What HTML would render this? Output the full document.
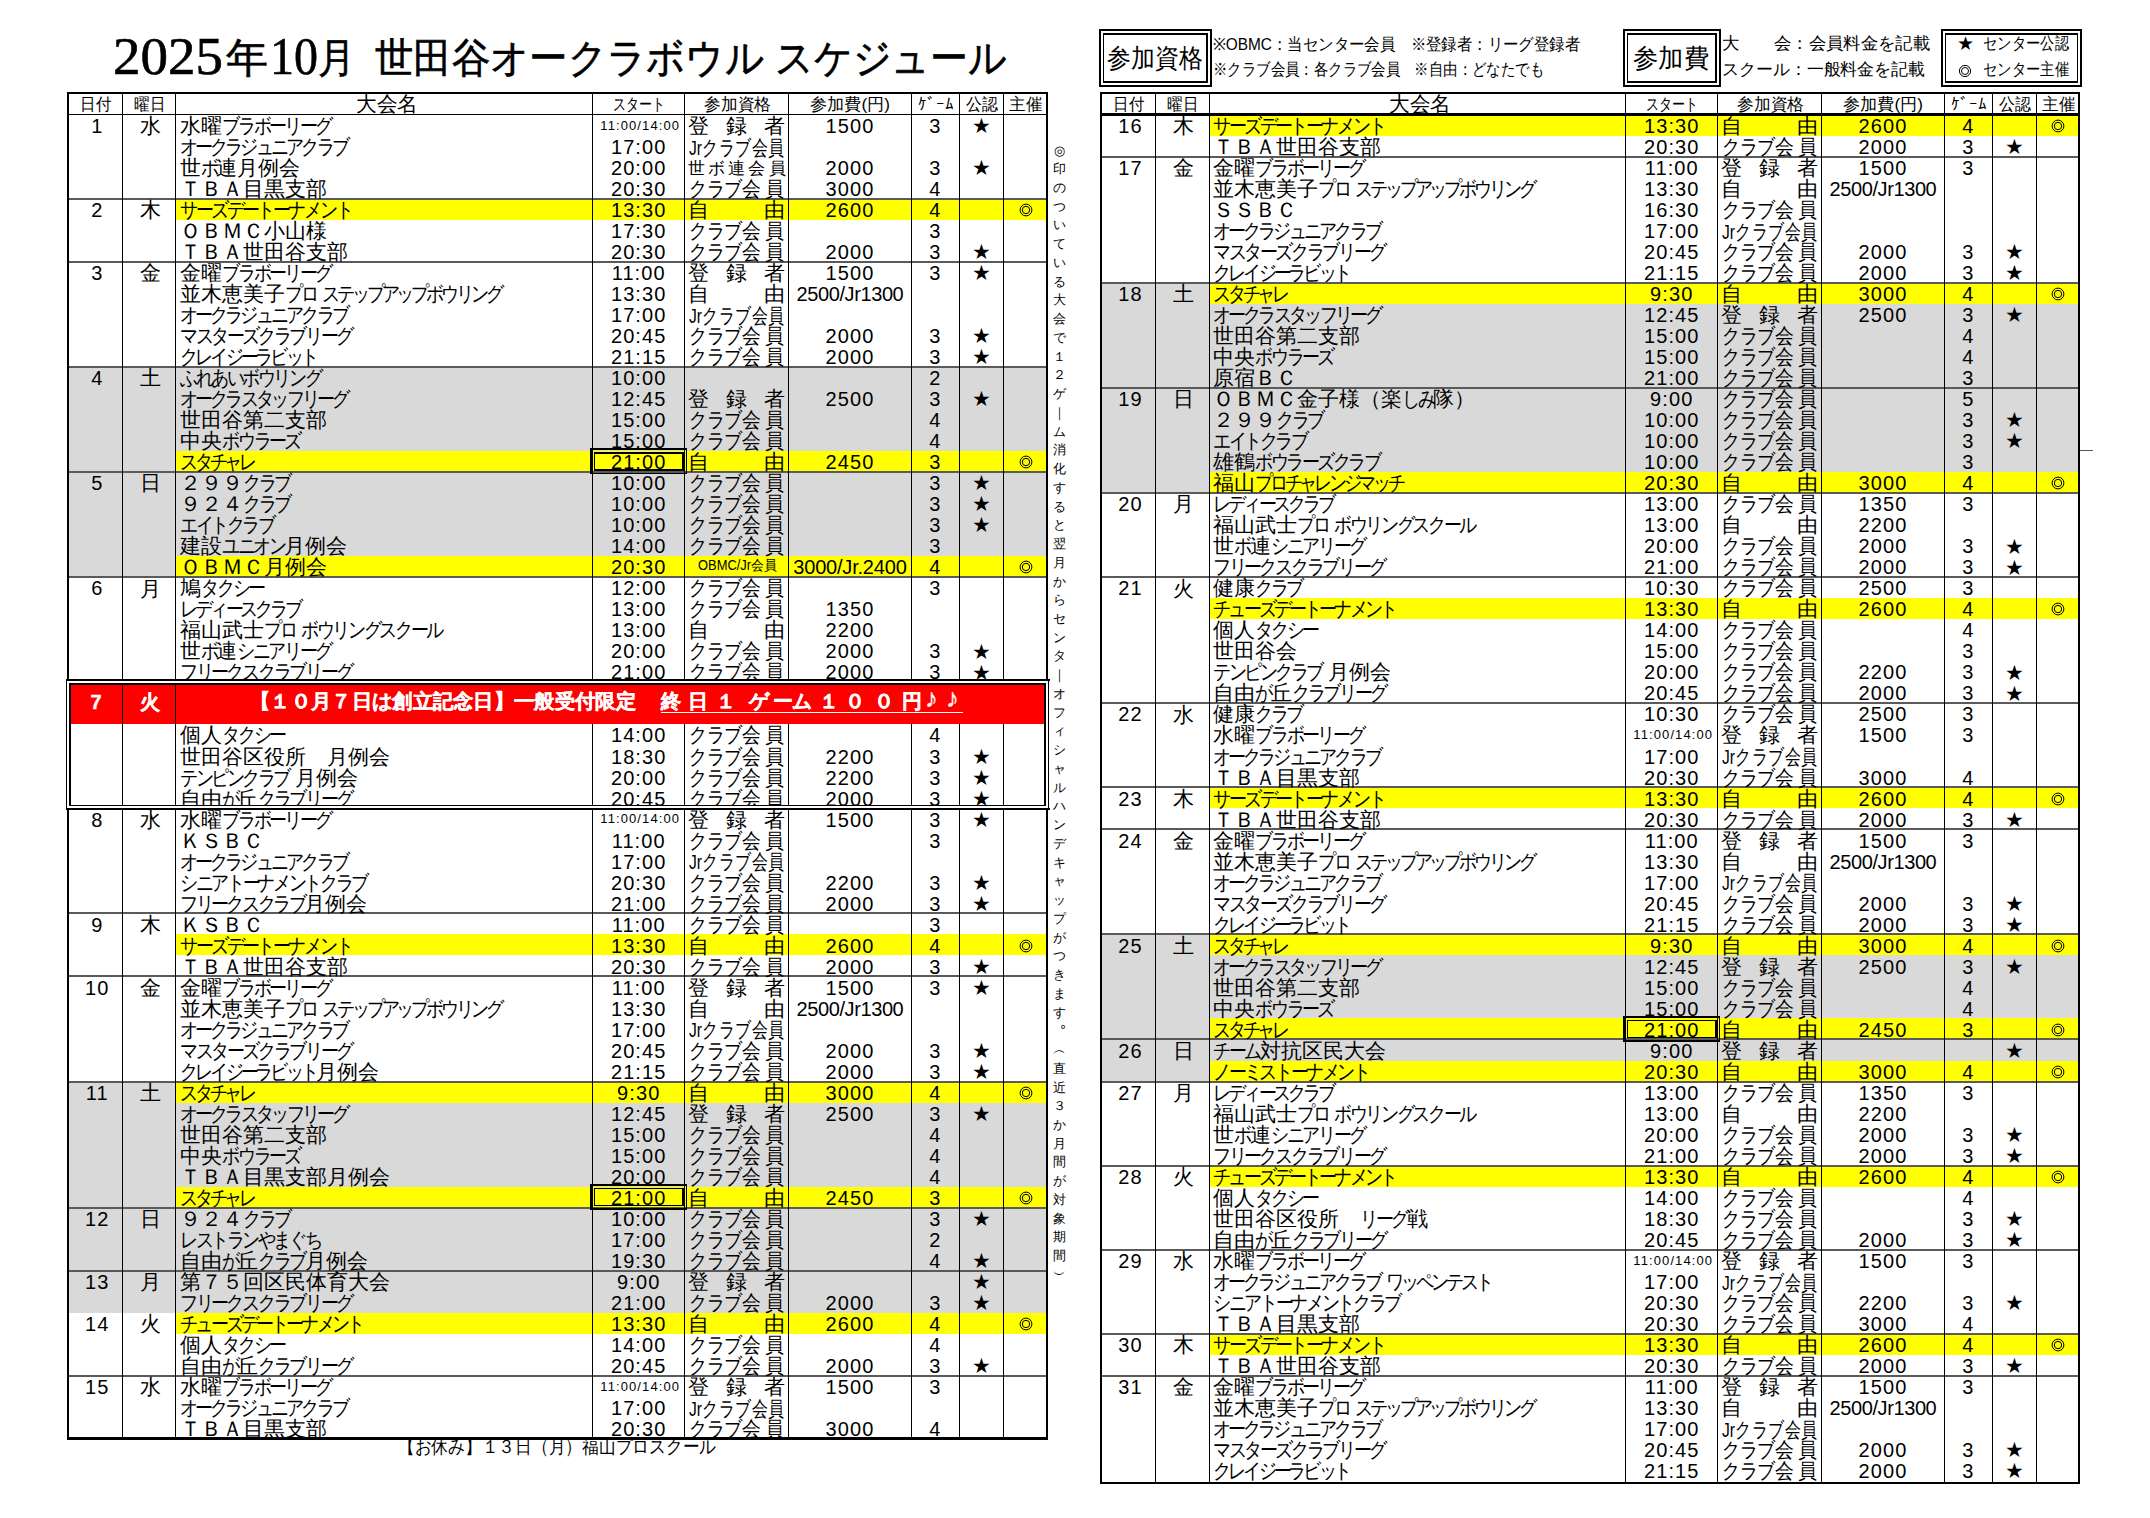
<!DOCTYPE html><html><head><meta charset="utf-8"><style>
*{margin:0;padding:0}
html,body{width:2150px;height:1518px;overflow:hidden;background:#fff}
body{position:relative;font-family:"Liberation Sans",sans-serif;color:#000}
.b{position:absolute}
.t,.nm,.dg,.sm,.st,.ci,.hd,.rw,.rw2,.q,.sq,.lg,.bx,.ttl,.vt{position:absolute;white-space:nowrap;transform-origin:0 0}
.c{text-align:center}
.k{display:inline-block;white-space:nowrap}
.k>span{display:inline-block;transform-origin:0 0}
.nm{font-size:20.5px;line-height:21px}
.dg{font-size:20px;line-height:21px;letter-spacing:1.1px}
.sm{font-size:13px;line-height:14px;letter-spacing:1.1px}
.st{font-size:21px;line-height:21px}
.ci{font-size:15.5px;line-height:21px;-webkit-text-stroke:0.45px #000}
.hd{font-size:17px;line-height:20px}
.q{font-size:20.5px;line-height:21px;display:flex;justify-content:space-between}
.d{display:flex;justify-content:space-between}
.sq{font-size:14px;line-height:16px}
.rw{font-size:20px;line-height:21px;font-weight:bold;color:#fff;-webkit-text-stroke:0.35px #fff}
.rw2{font-size:20px;line-height:21px;font-weight:bold;color:#fff}
.lg{font-size:17px;line-height:20px}
.bx{font-size:26px;line-height:30px}
.ttl{font-family:"Liberation Serif",serif;font-size:40px;line-height:56px;-webkit-text-stroke:0.6px #000}
.vt{font-size:12.5px;line-height:14px;width:14px;text-align:center}
.hd{transform-origin:0 0}
</style></head><body><div class="ttl" style="left:112.50px;top:29px;font-size:52px;transform:scaleX(1.0577);">2025</div>
<div class="ttl" style="left:226px;top:30px;font-size:41px;transform:scaleX(1.0244);">年</div>
<div class="ttl" style="left:270px;top:29px;font-size:52px;transform:scaleX(0.9231);">10</div>
<div class="ttl" style="left:318px;top:30px;font-size:41px;transform:scaleX(0.9024);">月</div>
<div class="ttl" style="left:375px;top:30px;font-size:41px;transform:scaleX(0.9351);">世田谷オークラボウル</div>
<div class="ttl" style="left:775px;top:30px;font-size:41px;transform:scaleX(0.9243);">スケジュール</div>
<div class="b" style="left:68px;top:366.84px;width:979px;height:105.10px;background:#d9d9d9"></div>
<div class="b" style="left:68px;top:471.94px;width:979px;height:105.10px;background:#d9d9d9"></div>
<div class="b" style="left:68px;top:1081.52px;width:979px;height:126.12px;background:#d9d9d9"></div>
<div class="b" style="left:68px;top:1207.64px;width:979px;height:63.06px;background:#d9d9d9"></div>
<div class="b" style="left:68px;top:1270.70px;width:979px;height:42.04px;background:#d9d9d9"></div>
<div class="b" style="left:175.80px;top:198.68px;width:871.20px;height:21.02px;background:#ffff00"></div>
<div class="b" style="left:175.80px;top:450.92px;width:871.20px;height:21.02px;background:#ffff00"></div>
<div class="b" style="left:175.80px;top:556.02px;width:871.20px;height:21.02px;background:#ffff00"></div>
<div class="b" style="left:175.80px;top:934.38px;width:871.20px;height:21.02px;background:#ffff00"></div>
<div class="b" style="left:175.80px;top:1081.52px;width:871.20px;height:21.02px;background:#ffff00"></div>
<div class="b" style="left:175.80px;top:1186.62px;width:871.20px;height:21.02px;background:#ffff00"></div>
<div class="b" style="left:175.80px;top:1312.74px;width:871.20px;height:21.02px;background:#ffff00"></div>
<div class="b" style="left:68px;top:198px;width:979px;height:2px;background:#5a5a5a"></div>
<div class="b" style="left:68px;top:261px;width:979px;height:2px;background:#5a5a5a"></div>
<div class="b" style="left:68px;top:366px;width:979px;height:2px;background:#5a5a5a"></div>
<div class="b" style="left:68px;top:471px;width:979px;height:2px;background:#5a5a5a"></div>
<div class="b" style="left:68px;top:576px;width:979px;height:2px;background:#5a5a5a"></div>
<div class="b" style="left:68px;top:681px;width:979px;height:2px;background:#5a5a5a"></div>
<div class="b" style="left:68px;top:807px;width:979px;height:2px;background:#5a5a5a"></div>
<div class="b" style="left:68px;top:912px;width:979px;height:2px;background:#5a5a5a"></div>
<div class="b" style="left:68px;top:975px;width:979px;height:2px;background:#5a5a5a"></div>
<div class="b" style="left:68px;top:1081px;width:979px;height:2px;background:#5a5a5a"></div>
<div class="b" style="left:68px;top:1207px;width:979px;height:2px;background:#5a5a5a"></div>
<div class="b" style="left:68px;top:1270px;width:979px;height:2px;background:#5a5a5a"></div>
<div class="b" style="left:68px;top:1375px;width:979px;height:2px;background:#5a5a5a"></div>
<div class="b" style="left:68px;top:113.85px;width:979px;height:1.50px;background:#000"></div>
<div class="b" style="left:121.80px;top:93.30px;width:1px;height:1344.90px;background:#000"></div>
<div class="b" style="left:175.30px;top:93.30px;width:1px;height:1344.90px;background:#000"></div>
<div class="b" style="left:592.30px;top:93.30px;width:1px;height:1344.90px;background:#000"></div>
<div class="b" style="left:684.10px;top:93.30px;width:1px;height:1344.90px;background:#000"></div>
<div class="b" style="left:787.90px;top:93.30px;width:1px;height:1344.90px;background:#000"></div>
<div class="b" style="left:911px;top:93.30px;width:1px;height:1344.90px;background:#000"></div>
<div class="b" style="left:958.60px;top:93.30px;width:1px;height:1344.90px;background:#000"></div>
<div class="b" style="left:1003px;top:93.30px;width:1px;height:1344.90px;background:#000"></div>
<div class="b" style="left:68px;top:684.94px;width:978px;height:39.24px;background:#ff0000"></div>
<div class="b" style="left:121.80px;top:684.94px;width:1px;height:39.24px;background:#000"></div>
<div class="b" style="left:175.30px;top:684.94px;width:1px;height:39.24px;background:#000"></div>
<div class="b" style="left:66.80px;top:92.10px;width:981.40px;height:2.40px;background:#000"></div>
<div class="b" style="left:66.80px;top:1437px;width:981.40px;height:2.70px;background:#000"></div>
<div class="b" style="left:66.80px;top:92.10px;width:2.40px;height:1347.60px;background:#000"></div>
<div class="b" style="left:1045.80px;top:92.10px;width:2.40px;height:1347.60px;background:#000"></div>
<div class="hd" style="left:80.15px;top:94.60px;font-size:17px;transform:scaleX(0.9118);">日付</div>
<div class="hd" style="left:134.05px;top:94.60px;font-size:17px;transform:scaleX(0.9118);">曜日</div>
<div class="hd" style="left:355.80px;top:93.60px;font-size:20.5px;transform:scaleX(0.9841);">大会名</div>
<div class="hd" style="left:613.20px;top:94.60px;font-size:17px;transform:scaleX(0.7647);">スタート</div>
<div class="hd" style="left:703.50px;top:94.60px;font-size:17px;transform:scaleX(0.9853);">参加資格</div>
<div class="hd" style="left:810.45px;top:94.60px;font-size:17px;transform:scaleX(1.0085);">参加費(円)</div>
<div class="hd" style="left:917.80px;top:94.60px;font-size:17px;transform:scaleX(1.0000);">ｹﾞｰﾑ</div>
<div class="hd" style="left:965.80px;top:94.60px;font-size:17px;transform:scaleX(0.9412);">公認</div>
<div class="hd" style="left:1009.25px;top:94.60px;font-size:17px;transform:scaleX(0.9706);">主催</div>
<div class="dg c" style="left:70.20px;width:54.30px;top:115.90px;">1</div>
<div class="nm c" style="left:123.30px;width:53.50px;top:115.10px;">水</div>
<div class="nm" style="left:179.80px;top:114.90px">水曜<span class="k" style="width:109.1px"><span style="transform:scaleX(0.86);letter-spacing:-3.60px">ブラボーリーグ</span></span></div>
<div class="sm c" style="left:594.30px;width:91.80px;top:118.60px;">11:00/14:00</div>
<div class="nm c" style="left:688px;width:20.50px;top:114.90px;">登</div>
<div class="nm c" style="left:725.75px;width:20.50px;top:114.90px;">録</div>
<div class="nm c" style="left:763.50px;width:20.50px;top:114.90px;">者</div>
<div class="dg c" style="left:788.40px;width:123.10px;top:115.90px;">1500</div>
<div class="dg c" style="left:911.50px;width:47.60px;top:115.90px;">3</div>
<div class="st c" style="left:959.10px;width:44.40px;top:115.10px;">★</div>
<div class="nm" style="left:179.80px;top:135.92px"><span class="k" style="width:167.3px"><span style="transform:scaleX(0.86);letter-spacing:-4.23px">オークラジュニアクラブ</span></span></div>
<div class="dg c" style="left:592.80px;width:91.80px;top:136.92px;">17:00</div>
<div class="nm" style="left:689.10px;top:136.62px;transform:scaleX(0.7595);">Jrクラブ会員</div>
<div class="nm" style="left:179.80px;top:156.94px">世<span class="k" style="width:15.6px"><span style="transform:scaleX(0.86);letter-spacing:-3.88px">ボ</span></span>連月例会</div>
<div class="dg c" style="left:592.80px;width:91.80px;top:157.94px;">20:00</div>
<div class="nm c" style="left:686.20px;width:20px;top:158.44px;font-size:17px">世</div>
<div class="nm c" style="left:706.42px;width:20px;top:158.44px;font-size:17px">ボ</div>
<div class="nm c" style="left:726.64px;width:20px;top:158.44px;font-size:17px">連</div>
<div class="nm c" style="left:746.86px;width:20px;top:158.44px;font-size:17px">会</div>
<div class="nm c" style="left:767.08px;width:20px;top:158.44px;font-size:17px">員</div>
<div class="dg c" style="left:788.40px;width:123.10px;top:157.94px;">2000</div>
<div class="dg c" style="left:911.50px;width:47.60px;top:157.94px;">3</div>
<div class="st c" style="left:959.10px;width:44.40px;top:157.14px;">★</div>
<div class="nm" style="left:179.80px;top:177.96px">ＴＢＡ目黒支部</div>
<div class="dg c" style="left:592.80px;width:91.80px;top:178.96px;">20:30</div>
<div class="nm c" style="left:688px;width:15.58px;top:177.96px;transform:scaleX(0.86);transform-origin:50% 0;">ク</div>
<div class="nm c" style="left:705.64px;width:15.58px;top:177.96px;transform:scaleX(0.86);transform-origin:50% 0;">ラ</div>
<div class="nm c" style="left:723.29px;width:15.58px;top:177.96px;transform:scaleX(0.86);transform-origin:50% 0;">ブ</div>
<div class="nm c" style="left:740.93px;width:20.50px;top:177.96px;transform:scaleX(0.9);transform-origin:50% 0;">会</div>
<div class="nm c" style="left:763.50px;width:20.50px;top:177.96px;transform:scaleX(0.9);transform-origin:50% 0;">員</div>
<div class="dg c" style="left:788.40px;width:123.10px;top:178.96px;">3000</div>
<div class="dg c" style="left:911.50px;width:47.60px;top:178.96px;">4</div>
<div class="dg c" style="left:70.20px;width:54.30px;top:199.98px;">2</div>
<div class="nm c" style="left:123.30px;width:53.50px;top:199.18px;">木</div>
<div class="nm" style="left:179.80px;top:198.98px"><span class="k" style="width:171.4px"><span style="transform:scaleX(0.86);letter-spacing:-3.61px">サーズデートーナメント</span></span></div>
<div class="dg c" style="left:592.80px;width:91.80px;top:199.98px;">13:30</div>
<div class="nm c" style="left:688px;width:20.50px;top:198.98px;">自</div>
<div class="nm c" style="left:763.50px;width:20.50px;top:198.98px;">由</div>
<div class="dg c" style="left:788.40px;width:123.10px;top:199.98px;">2600</div>
<div class="dg c" style="left:911.50px;width:47.60px;top:199.98px;">4</div>
<svg class="b" style="left:1019.05px;top:203.08px" width="14" height="14" viewBox="0 0 14 14"><circle cx="7" cy="7" r="5.9" fill="none" stroke="#000" stroke-width="1.0"/><circle cx="7" cy="7" r="3.7" fill="none" stroke="#000" stroke-width="1.0"/></svg>
<div class="nm" style="left:179.80px;top:220px">ＯＢＭＣ小山様</div>
<div class="dg c" style="left:592.80px;width:91.80px;top:221px;">17:30</div>
<div class="nm c" style="left:688px;width:15.58px;top:220px;transform:scaleX(0.86);transform-origin:50% 0;">ク</div>
<div class="nm c" style="left:705.64px;width:15.58px;top:220px;transform:scaleX(0.86);transform-origin:50% 0;">ラ</div>
<div class="nm c" style="left:723.29px;width:15.58px;top:220px;transform:scaleX(0.86);transform-origin:50% 0;">ブ</div>
<div class="nm c" style="left:740.93px;width:20.50px;top:220px;transform:scaleX(0.9);transform-origin:50% 0;">会</div>
<div class="nm c" style="left:763.50px;width:20.50px;top:220px;transform:scaleX(0.9);transform-origin:50% 0;">員</div>
<div class="dg c" style="left:911.50px;width:47.60px;top:221px;">3</div>
<div class="nm" style="left:179.80px;top:241.02px">ＴＢＡ世田谷支部</div>
<div class="dg c" style="left:592.80px;width:91.80px;top:242.02px;">20:30</div>
<div class="nm c" style="left:688px;width:15.58px;top:241.02px;transform:scaleX(0.86);transform-origin:50% 0;">ク</div>
<div class="nm c" style="left:705.64px;width:15.58px;top:241.02px;transform:scaleX(0.86);transform-origin:50% 0;">ラ</div>
<div class="nm c" style="left:723.29px;width:15.58px;top:241.02px;transform:scaleX(0.86);transform-origin:50% 0;">ブ</div>
<div class="nm c" style="left:740.93px;width:20.50px;top:241.02px;transform:scaleX(0.9);transform-origin:50% 0;">会</div>
<div class="nm c" style="left:763.50px;width:20.50px;top:241.02px;transform:scaleX(0.9);transform-origin:50% 0;">員</div>
<div class="dg c" style="left:788.40px;width:123.10px;top:242.02px;">2000</div>
<div class="dg c" style="left:911.50px;width:47.60px;top:242.02px;">3</div>
<div class="st c" style="left:959.10px;width:44.40px;top:241.22px;">★</div>
<div class="dg c" style="left:70.20px;width:54.30px;top:263.04px;">3</div>
<div class="nm c" style="left:123.30px;width:53.50px;top:262.24px;">金</div>
<div class="nm" style="left:179.80px;top:262.04px">金曜<span class="k" style="width:109.1px"><span style="transform:scaleX(0.86);letter-spacing:-3.60px">ブラボーリーグ</span></span></div>
<div class="dg c" style="left:592.80px;width:91.80px;top:263.04px;">11:00</div>
<div class="nm c" style="left:688px;width:20.50px;top:262.04px;">登</div>
<div class="nm c" style="left:725.75px;width:20.50px;top:262.04px;">録</div>
<div class="nm c" style="left:763.50px;width:20.50px;top:262.04px;">者</div>
<div class="dg c" style="left:788.40px;width:123.10px;top:263.04px;">1500</div>
<div class="dg c" style="left:911.50px;width:47.60px;top:263.04px;">3</div>
<div class="st c" style="left:959.10px;width:44.40px;top:262.24px;">★</div>
<div class="nm" style="left:179.80px;top:283.06px">並木恵美子<span class="k" style="width:31.2px"><span style="transform:scaleX(0.86);letter-spacing:-3.88px">プロ</span></span> <span class="k" style="width:178.8px"><span style="transform:scaleX(0.86);letter-spacing:-4.68px">ステップアップボウリング</span></span></div>
<div class="dg c" style="left:592.80px;width:91.80px;top:284.06px;">13:30</div>
<div class="nm c" style="left:688px;width:20.50px;top:283.06px;">自</div>
<div class="nm c" style="left:763.50px;width:20.50px;top:283.06px;">由</div>
<div class="dg c" style="left:788.40px;width:123.10px;top:284.06px;letter-spacing:-0.4px">2500/Jr1300</div>
<div class="nm" style="left:179.80px;top:304.08px"><span class="k" style="width:167.3px"><span style="transform:scaleX(0.86);letter-spacing:-4.23px">オークラジュニアクラブ</span></span></div>
<div class="dg c" style="left:592.80px;width:91.80px;top:305.08px;">17:00</div>
<div class="nm" style="left:689.10px;top:304.78px;transform:scaleX(0.7595);">Jrクラブ会員</div>
<div class="nm" style="left:179.80px;top:325.10px"><span class="k" style="width:171.4px"><span style="transform:scaleX(0.86);letter-spacing:-3.70px">マスターズクラブリーグ</span></span></div>
<div class="dg c" style="left:592.80px;width:91.80px;top:326.10px;">20:45</div>
<div class="nm c" style="left:688px;width:15.58px;top:325.10px;transform:scaleX(0.86);transform-origin:50% 0;">ク</div>
<div class="nm c" style="left:705.64px;width:15.58px;top:325.10px;transform:scaleX(0.86);transform-origin:50% 0;">ラ</div>
<div class="nm c" style="left:723.29px;width:15.58px;top:325.10px;transform:scaleX(0.86);transform-origin:50% 0;">ブ</div>
<div class="nm c" style="left:740.93px;width:20.50px;top:325.10px;transform:scaleX(0.9);transform-origin:50% 0;">会</div>
<div class="nm c" style="left:763.50px;width:20.50px;top:325.10px;transform:scaleX(0.9);transform-origin:50% 0;">員</div>
<div class="dg c" style="left:788.40px;width:123.10px;top:326.10px;">2000</div>
<div class="dg c" style="left:911.50px;width:47.60px;top:326.10px;">3</div>
<div class="st c" style="left:959.10px;width:44.40px;top:325.30px;">★</div>
<div class="nm" style="left:179.80px;top:346.12px"><span class="k" style="width:136.1px"><span style="transform:scaleX(0.86);letter-spacing:-4.30px">クレイジーラビット</span></span></div>
<div class="dg c" style="left:592.80px;width:91.80px;top:347.12px;">21:15</div>
<div class="nm c" style="left:688px;width:15.58px;top:346.12px;transform:scaleX(0.86);transform-origin:50% 0;">ク</div>
<div class="nm c" style="left:705.64px;width:15.58px;top:346.12px;transform:scaleX(0.86);transform-origin:50% 0;">ラ</div>
<div class="nm c" style="left:723.29px;width:15.58px;top:346.12px;transform:scaleX(0.86);transform-origin:50% 0;">ブ</div>
<div class="nm c" style="left:740.93px;width:20.50px;top:346.12px;transform:scaleX(0.9);transform-origin:50% 0;">会</div>
<div class="nm c" style="left:763.50px;width:20.50px;top:346.12px;transform:scaleX(0.9);transform-origin:50% 0;">員</div>
<div class="dg c" style="left:788.40px;width:123.10px;top:347.12px;">2000</div>
<div class="dg c" style="left:911.50px;width:47.60px;top:347.12px;">3</div>
<div class="st c" style="left:959.10px;width:44.40px;top:346.32px;">★</div>
<div class="dg c" style="left:70.20px;width:54.30px;top:368.14px;">4</div>
<div class="nm c" style="left:123.30px;width:53.50px;top:367.34px;">土</div>
<div class="nm" style="left:179.80px;top:367.14px"><span class="k" style="width:140.2px"><span style="transform:scaleX(0.86);letter-spacing:-3.88px">ふれあいボウリング</span></span></div>
<div class="dg c" style="left:592.80px;width:91.80px;top:368.14px;">10:00</div>
<div class="dg c" style="left:911.50px;width:47.60px;top:368.14px;">2</div>
<div class="nm" style="left:179.80px;top:388.16px"><span class="k" style="width:167.3px"><span style="transform:scaleX(0.86);letter-spacing:-4.14px">オークラスタッフリーグ</span></span></div>
<div class="dg c" style="left:592.80px;width:91.80px;top:389.16px;">12:45</div>
<div class="nm c" style="left:688px;width:20.50px;top:388.16px;">登</div>
<div class="nm c" style="left:725.75px;width:20.50px;top:388.16px;">録</div>
<div class="nm c" style="left:763.50px;width:20.50px;top:388.16px;">者</div>
<div class="dg c" style="left:788.40px;width:123.10px;top:389.16px;">2500</div>
<div class="dg c" style="left:911.50px;width:47.60px;top:389.16px;">3</div>
<div class="st c" style="left:959.10px;width:44.40px;top:388.36px;">★</div>
<div class="nm" style="left:179.80px;top:409.18px">世田谷第二支部</div>
<div class="dg c" style="left:592.80px;width:91.80px;top:410.18px;">15:00</div>
<div class="nm c" style="left:688px;width:15.58px;top:409.18px;transform:scaleX(0.86);transform-origin:50% 0;">ク</div>
<div class="nm c" style="left:705.64px;width:15.58px;top:409.18px;transform:scaleX(0.86);transform-origin:50% 0;">ラ</div>
<div class="nm c" style="left:723.29px;width:15.58px;top:409.18px;transform:scaleX(0.86);transform-origin:50% 0;">ブ</div>
<div class="nm c" style="left:740.93px;width:20.50px;top:409.18px;transform:scaleX(0.9);transform-origin:50% 0;">会</div>
<div class="nm c" style="left:763.50px;width:20.50px;top:409.18px;transform:scaleX(0.9);transform-origin:50% 0;">員</div>
<div class="dg c" style="left:911.50px;width:47.60px;top:410.18px;">4</div>
<div class="nm" style="left:179.80px;top:430.20px">中央<span class="k" style="width:77.9px"><span style="transform:scaleX(0.86);letter-spacing:-3.68px">ボウラーズ</span></span></div>
<div class="dg c" style="left:592.80px;width:91.80px;top:431.20px;">15:00</div>
<div class="nm c" style="left:688px;width:15.58px;top:430.20px;transform:scaleX(0.86);transform-origin:50% 0;">ク</div>
<div class="nm c" style="left:705.64px;width:15.58px;top:430.20px;transform:scaleX(0.86);transform-origin:50% 0;">ラ</div>
<div class="nm c" style="left:723.29px;width:15.58px;top:430.20px;transform:scaleX(0.86);transform-origin:50% 0;">ブ</div>
<div class="nm c" style="left:740.93px;width:20.50px;top:430.20px;transform:scaleX(0.9);transform-origin:50% 0;">会</div>
<div class="nm c" style="left:763.50px;width:20.50px;top:430.20px;transform:scaleX(0.9);transform-origin:50% 0;">員</div>
<div class="dg c" style="left:911.50px;width:47.60px;top:431.20px;">4</div>
<div class="nm" style="left:179.80px;top:451.22px"><span class="k" style="width:73.8px"><span style="transform:scaleX(0.86);letter-spacing:-4.84px">スタチャレ</span></span></div>
<div class="dg c" style="left:592.80px;width:91.80px;top:452.22px;">21:00</div>
<div class="nm c" style="left:688px;width:20.50px;top:451.22px;">自</div>
<div class="nm c" style="left:763.50px;width:20.50px;top:451.22px;">由</div>
<div class="dg c" style="left:788.40px;width:123.10px;top:452.22px;">2450</div>
<div class="dg c" style="left:911.50px;width:47.60px;top:452.22px;">3</div>
<svg class="b" style="left:1019.05px;top:455.32px" width="14" height="14" viewBox="0 0 14 14"><circle cx="7" cy="7" r="5.9" fill="none" stroke="#000" stroke-width="1.0"/><circle cx="7" cy="7" r="3.7" fill="none" stroke="#000" stroke-width="1.0"/></svg>
<div class="b" style="left:589.80px;top:448.32px;width:97.50px;height:1.80px;background:#000"></div>
<div class="b" style="left:589.80px;top:472.52px;width:97.50px;height:1.80px;background:#000"></div>
<div class="b" style="left:589.80px;top:448.32px;width:1.80px;height:26px;background:#000"></div>
<div class="b" style="left:685.50px;top:448.32px;width:1.80px;height:26px;background:#000"></div>
<div class="b" style="left:593.80px;top:452.02px;width:89.80px;height:1.50px;background:#000"></div>
<div class="b" style="left:593.80px;top:469.22px;width:89.80px;height:1.50px;background:#000"></div>
<div class="b" style="left:593.80px;top:452.02px;width:1.50px;height:18.70px;background:#000"></div>
<div class="b" style="left:682.10px;top:452.02px;width:1.50px;height:18.70px;background:#000"></div>
<div class="dg c" style="left:70.20px;width:54.30px;top:473.24px;">5</div>
<div class="nm c" style="left:123.30px;width:53.50px;top:472.44px;">日</div>
<div class="nm" style="left:179.80px;top:472.24px">２９９<span class="k" style="width:46.7px"><span style="transform:scaleX(0.86);letter-spacing:-3.88px">クラブ</span></span></div>
<div class="dg c" style="left:592.80px;width:91.80px;top:473.24px;">10:00</div>
<div class="nm c" style="left:688px;width:15.58px;top:472.24px;transform:scaleX(0.86);transform-origin:50% 0;">ク</div>
<div class="nm c" style="left:705.64px;width:15.58px;top:472.24px;transform:scaleX(0.86);transform-origin:50% 0;">ラ</div>
<div class="nm c" style="left:723.29px;width:15.58px;top:472.24px;transform:scaleX(0.86);transform-origin:50% 0;">ブ</div>
<div class="nm c" style="left:740.93px;width:20.50px;top:472.24px;transform:scaleX(0.9);transform-origin:50% 0;">会</div>
<div class="nm c" style="left:763.50px;width:20.50px;top:472.24px;transform:scaleX(0.9);transform-origin:50% 0;">員</div>
<div class="dg c" style="left:911.50px;width:47.60px;top:473.24px;">3</div>
<div class="st c" style="left:959.10px;width:44.40px;top:472.44px;">★</div>
<div class="nm" style="left:179.80px;top:493.26px">９２４<span class="k" style="width:46.7px"><span style="transform:scaleX(0.86);letter-spacing:-3.88px">クラブ</span></span></div>
<div class="dg c" style="left:592.80px;width:91.80px;top:494.26px;">10:00</div>
<div class="nm c" style="left:688px;width:15.58px;top:493.26px;transform:scaleX(0.86);transform-origin:50% 0;">ク</div>
<div class="nm c" style="left:705.64px;width:15.58px;top:493.26px;transform:scaleX(0.86);transform-origin:50% 0;">ラ</div>
<div class="nm c" style="left:723.29px;width:15.58px;top:493.26px;transform:scaleX(0.86);transform-origin:50% 0;">ブ</div>
<div class="nm c" style="left:740.93px;width:20.50px;top:493.26px;transform:scaleX(0.9);transform-origin:50% 0;">会</div>
<div class="nm c" style="left:763.50px;width:20.50px;top:493.26px;transform:scaleX(0.9);transform-origin:50% 0;">員</div>
<div class="dg c" style="left:911.50px;width:47.60px;top:494.26px;">3</div>
<div class="st c" style="left:959.10px;width:44.40px;top:493.46px;">★</div>
<div class="nm" style="left:179.80px;top:514.28px"><span class="k" style="width:93.5px"><span style="transform:scaleX(0.86);letter-spacing:-3.88px">エイトクラブ</span></span></div>
<div class="dg c" style="left:592.80px;width:91.80px;top:515.28px;">10:00</div>
<div class="nm c" style="left:688px;width:15.58px;top:514.28px;transform:scaleX(0.86);transform-origin:50% 0;">ク</div>
<div class="nm c" style="left:705.64px;width:15.58px;top:514.28px;transform:scaleX(0.86);transform-origin:50% 0;">ラ</div>
<div class="nm c" style="left:723.29px;width:15.58px;top:514.28px;transform:scaleX(0.86);transform-origin:50% 0;">ブ</div>
<div class="nm c" style="left:740.93px;width:20.50px;top:514.28px;transform:scaleX(0.9);transform-origin:50% 0;">会</div>
<div class="nm c" style="left:763.50px;width:20.50px;top:514.28px;transform:scaleX(0.9);transform-origin:50% 0;">員</div>
<div class="dg c" style="left:911.50px;width:47.60px;top:515.28px;">3</div>
<div class="st c" style="left:959.10px;width:44.40px;top:514.48px;">★</div>
<div class="nm" style="left:179.80px;top:535.30px">建設<span class="k" style="width:62.3px"><span style="transform:scaleX(0.86);letter-spacing:-3.88px">ユニオン</span></span>月例会</div>
<div class="dg c" style="left:592.80px;width:91.80px;top:536.30px;">14:00</div>
<div class="nm c" style="left:688px;width:15.58px;top:535.30px;transform:scaleX(0.86);transform-origin:50% 0;">ク</div>
<div class="nm c" style="left:705.64px;width:15.58px;top:535.30px;transform:scaleX(0.86);transform-origin:50% 0;">ラ</div>
<div class="nm c" style="left:723.29px;width:15.58px;top:535.30px;transform:scaleX(0.86);transform-origin:50% 0;">ブ</div>
<div class="nm c" style="left:740.93px;width:20.50px;top:535.30px;transform:scaleX(0.9);transform-origin:50% 0;">会</div>
<div class="nm c" style="left:763.50px;width:20.50px;top:535.30px;transform:scaleX(0.9);transform-origin:50% 0;">員</div>
<div class="dg c" style="left:911.50px;width:47.60px;top:536.30px;">3</div>
<div class="nm" style="left:179.80px;top:556.32px">ＯＢＭＣ月例会</div>
<div class="dg c" style="left:592.80px;width:91.80px;top:557.32px;">20:30</div>
<div class="sq" style="left:697.60px;top:557.22px;transform:scaleX(0.9233);">OBMC/Jr会員</div>
<div class="dg c" style="left:788.40px;width:123.10px;top:557.32px;letter-spacing:-0.2px">3000/Jr.2400</div>
<div class="dg c" style="left:911.50px;width:47.60px;top:557.32px;">4</div>
<svg class="b" style="left:1019.05px;top:560.42px" width="14" height="14" viewBox="0 0 14 14"><circle cx="7" cy="7" r="5.9" fill="none" stroke="#000" stroke-width="1.0"/><circle cx="7" cy="7" r="3.7" fill="none" stroke="#000" stroke-width="1.0"/></svg>
<div class="dg c" style="left:70.20px;width:54.30px;top:578.34px;">6</div>
<div class="nm c" style="left:123.30px;width:53.50px;top:577.54px;">月</div>
<div class="nm" style="left:179.80px;top:577.34px">鳩<span class="k" style="width:62.3px"><span style="transform:scaleX(0.86);letter-spacing:-3.63px">タクシー</span></span></div>
<div class="dg c" style="left:592.80px;width:91.80px;top:578.34px;">12:00</div>
<div class="nm c" style="left:688px;width:15.58px;top:577.34px;transform:scaleX(0.86);transform-origin:50% 0;">ク</div>
<div class="nm c" style="left:705.64px;width:15.58px;top:577.34px;transform:scaleX(0.86);transform-origin:50% 0;">ラ</div>
<div class="nm c" style="left:723.29px;width:15.58px;top:577.34px;transform:scaleX(0.86);transform-origin:50% 0;">ブ</div>
<div class="nm c" style="left:740.93px;width:20.50px;top:577.34px;transform:scaleX(0.9);transform-origin:50% 0;">会</div>
<div class="nm c" style="left:763.50px;width:20.50px;top:577.34px;transform:scaleX(0.9);transform-origin:50% 0;">員</div>
<div class="dg c" style="left:911.50px;width:47.60px;top:578.34px;">3</div>
<div class="nm" style="left:179.80px;top:598.36px"><span class="k" style="width:120.5px"><span style="transform:scaleX(0.86);letter-spacing:-4.35px">レディースクラブ</span></span></div>
<div class="dg c" style="left:592.80px;width:91.80px;top:599.36px;">13:00</div>
<div class="nm c" style="left:688px;width:15.58px;top:598.36px;transform:scaleX(0.86);transform-origin:50% 0;">ク</div>
<div class="nm c" style="left:705.64px;width:15.58px;top:598.36px;transform:scaleX(0.86);transform-origin:50% 0;">ラ</div>
<div class="nm c" style="left:723.29px;width:15.58px;top:598.36px;transform:scaleX(0.86);transform-origin:50% 0;">ブ</div>
<div class="nm c" style="left:740.93px;width:20.50px;top:598.36px;transform:scaleX(0.9);transform-origin:50% 0;">会</div>
<div class="nm c" style="left:763.50px;width:20.50px;top:598.36px;transform:scaleX(0.9);transform-origin:50% 0;">員</div>
<div class="dg c" style="left:788.40px;width:123.10px;top:599.36px;">1350</div>
<div class="nm" style="left:179.80px;top:619.38px">福山武士<span class="k" style="width:31.2px"><span style="transform:scaleX(0.86);letter-spacing:-3.88px">プロ</span></span> <span class="k" style="width:140.2px"><span style="transform:scaleX(0.86);letter-spacing:-3.77px">ボウリングスクール</span></span></div>
<div class="dg c" style="left:592.80px;width:91.80px;top:620.38px;">13:00</div>
<div class="nm c" style="left:688px;width:20.50px;top:619.38px;">自</div>
<div class="nm c" style="left:763.50px;width:20.50px;top:619.38px;">由</div>
<div class="dg c" style="left:788.40px;width:123.10px;top:620.38px;">2200</div>
<div class="nm" style="left:179.80px;top:640.40px">世<span class="k" style="width:15.6px"><span style="transform:scaleX(0.86);letter-spacing:-3.88px">ボ</span></span>連<span class="k" style="width:93.5px"><span style="transform:scaleX(0.86);letter-spacing:-3.72px">シニアリーグ</span></span></div>
<div class="dg c" style="left:592.80px;width:91.80px;top:641.40px;">20:00</div>
<div class="nm c" style="left:688px;width:15.58px;top:640.40px;transform:scaleX(0.86);transform-origin:50% 0;">ク</div>
<div class="nm c" style="left:705.64px;width:15.58px;top:640.40px;transform:scaleX(0.86);transform-origin:50% 0;">ラ</div>
<div class="nm c" style="left:723.29px;width:15.58px;top:640.40px;transform:scaleX(0.86);transform-origin:50% 0;">ブ</div>
<div class="nm c" style="left:740.93px;width:20.50px;top:640.40px;transform:scaleX(0.9);transform-origin:50% 0;">会</div>
<div class="nm c" style="left:763.50px;width:20.50px;top:640.40px;transform:scaleX(0.9);transform-origin:50% 0;">員</div>
<div class="dg c" style="left:788.40px;width:123.10px;top:641.40px;">2000</div>
<div class="dg c" style="left:911.50px;width:47.60px;top:641.40px;">3</div>
<div class="st c" style="left:959.10px;width:44.40px;top:640.60px;">★</div>
<div class="nm" style="left:179.80px;top:661.42px"><span class="k" style="width:171.4px"><span style="transform:scaleX(0.86);letter-spacing:-3.70px">フリークスクラブリーグ</span></span></div>
<div class="dg c" style="left:592.80px;width:91.80px;top:662.42px;">21:00</div>
<div class="nm c" style="left:688px;width:15.58px;top:661.42px;transform:scaleX(0.86);transform-origin:50% 0;">ク</div>
<div class="nm c" style="left:705.64px;width:15.58px;top:661.42px;transform:scaleX(0.86);transform-origin:50% 0;">ラ</div>
<div class="nm c" style="left:723.29px;width:15.58px;top:661.42px;transform:scaleX(0.86);transform-origin:50% 0;">ブ</div>
<div class="nm c" style="left:740.93px;width:20.50px;top:661.42px;transform:scaleX(0.9);transform-origin:50% 0;">会</div>
<div class="nm c" style="left:763.50px;width:20.50px;top:661.42px;transform:scaleX(0.9);transform-origin:50% 0;">員</div>
<div class="dg c" style="left:788.40px;width:123.10px;top:662.42px;">2000</div>
<div class="dg c" style="left:911.50px;width:47.60px;top:662.42px;">3</div>
<div class="st c" style="left:959.10px;width:44.40px;top:661.62px;">★</div>
<div class="rw c" style="left:69px;width:54.30px;top:692.14px">7</div>
<div class="rw c" style="left:123.30px;width:53.50px;top:692.14px">火</div>
<div class="rw" style="left:250px;top:691.34px;transform:scaleX(1.0158);">【１０月７日は創立記念日】一般受付限定</div>
<div class="rw c" style="left:658.80px;width:24px;top:691.34px;font-size:20px">終</div>
<div class="rw c" style="left:686.10px;width:24px;top:691.34px;font-size:20px">日</div>
<div class="rw c" style="left:714.40px;width:24px;top:691.34px;font-size:20px">１</div>
<div class="rw c" style="left:746.60px;width:24px;top:691.34px;font-size:20px">ゲ</div>
<div class="rw c" style="left:771px;width:24px;top:691.34px;font-size:20px">ー</div>
<div class="rw c" style="left:789.60px;width:24px;top:691.34px;font-size:20px">ム</div>
<div class="rw c" style="left:816.50px;width:24px;top:691.34px;font-size:20px">１</div>
<div class="rw c" style="left:843.30px;width:24px;top:691.34px;font-size:20px">０</div>
<div class="rw c" style="left:871.70px;width:24px;top:691.34px;font-size:20px">０</div>
<div class="rw c" style="left:900px;width:24px;top:691.34px;font-size:20px">円</div>
<div class="rw c" style="left:919.50px;width:24px;top:687.84px;font-size:26px">♪</div>
<div class="rw c" style="left:940.50px;width:24px;top:687.84px;font-size:26px">♪</div>
<div class="b" style="left:660.60px;top:711.74px;width:302.40px;height:1.20px;background:#fff"></div>
<div class="nm" style="left:179.80px;top:724.48px">個人<span class="k" style="width:62.3px"><span style="transform:scaleX(0.86);letter-spacing:-3.63px">タクシー</span></span></div>
<div class="dg c" style="left:592.80px;width:91.80px;top:725.48px;">14:00</div>
<div class="nm c" style="left:688px;width:15.58px;top:724.48px;transform:scaleX(0.86);transform-origin:50% 0;">ク</div>
<div class="nm c" style="left:705.64px;width:15.58px;top:724.48px;transform:scaleX(0.86);transform-origin:50% 0;">ラ</div>
<div class="nm c" style="left:723.29px;width:15.58px;top:724.48px;transform:scaleX(0.86);transform-origin:50% 0;">ブ</div>
<div class="nm c" style="left:740.93px;width:20.50px;top:724.48px;transform:scaleX(0.9);transform-origin:50% 0;">会</div>
<div class="nm c" style="left:763.50px;width:20.50px;top:724.48px;transform:scaleX(0.9);transform-origin:50% 0;">員</div>
<div class="dg c" style="left:911.50px;width:47.60px;top:725.48px;">4</div>
<div class="nm" style="left:179.80px;top:745.50px">世田谷区役所　月例会</div>
<div class="dg c" style="left:592.80px;width:91.80px;top:746.50px;">18:30</div>
<div class="nm c" style="left:688px;width:15.58px;top:745.50px;transform:scaleX(0.86);transform-origin:50% 0;">ク</div>
<div class="nm c" style="left:705.64px;width:15.58px;top:745.50px;transform:scaleX(0.86);transform-origin:50% 0;">ラ</div>
<div class="nm c" style="left:723.29px;width:15.58px;top:745.50px;transform:scaleX(0.86);transform-origin:50% 0;">ブ</div>
<div class="nm c" style="left:740.93px;width:20.50px;top:745.50px;transform:scaleX(0.9);transform-origin:50% 0;">会</div>
<div class="nm c" style="left:763.50px;width:20.50px;top:745.50px;transform:scaleX(0.9);transform-origin:50% 0;">員</div>
<div class="dg c" style="left:788.40px;width:123.10px;top:746.50px;">2200</div>
<div class="dg c" style="left:911.50px;width:47.60px;top:746.50px;">3</div>
<div class="st c" style="left:959.10px;width:44.40px;top:745.70px;">★</div>
<div class="nm" style="left:179.80px;top:766.52px"><span class="k" style="width:109.1px"><span style="transform:scaleX(0.86);letter-spacing:-3.88px">テンピンクラブ</span></span> 月例会</div>
<div class="dg c" style="left:592.80px;width:91.80px;top:767.52px;">20:00</div>
<div class="nm c" style="left:688px;width:15.58px;top:766.52px;transform:scaleX(0.86);transform-origin:50% 0;">ク</div>
<div class="nm c" style="left:705.64px;width:15.58px;top:766.52px;transform:scaleX(0.86);transform-origin:50% 0;">ラ</div>
<div class="nm c" style="left:723.29px;width:15.58px;top:766.52px;transform:scaleX(0.86);transform-origin:50% 0;">ブ</div>
<div class="nm c" style="left:740.93px;width:20.50px;top:766.52px;transform:scaleX(0.9);transform-origin:50% 0;">会</div>
<div class="nm c" style="left:763.50px;width:20.50px;top:766.52px;transform:scaleX(0.9);transform-origin:50% 0;">員</div>
<div class="dg c" style="left:788.40px;width:123.10px;top:767.52px;">2200</div>
<div class="dg c" style="left:911.50px;width:47.60px;top:767.52px;">3</div>
<div class="st c" style="left:959.10px;width:44.40px;top:766.72px;">★</div>
<div class="nm" style="left:179.80px;top:787.54px">自由<span class="k" style="width:15.6px"><span style="transform:scaleX(0.86);letter-spacing:-3.88px">が</span></span>丘<span class="k" style="width:93.5px"><span style="transform:scaleX(0.86);letter-spacing:-3.72px">クラブリーグ</span></span></div>
<div class="dg c" style="left:592.80px;width:91.80px;top:788.54px;">20:45</div>
<div class="nm c" style="left:688px;width:15.58px;top:787.54px;transform:scaleX(0.86);transform-origin:50% 0;">ク</div>
<div class="nm c" style="left:705.64px;width:15.58px;top:787.54px;transform:scaleX(0.86);transform-origin:50% 0;">ラ</div>
<div class="nm c" style="left:723.29px;width:15.58px;top:787.54px;transform:scaleX(0.86);transform-origin:50% 0;">ブ</div>
<div class="nm c" style="left:740.93px;width:20.50px;top:787.54px;transform:scaleX(0.9);transform-origin:50% 0;">会</div>
<div class="nm c" style="left:763.50px;width:20.50px;top:787.54px;transform:scaleX(0.9);transform-origin:50% 0;">員</div>
<div class="dg c" style="left:788.40px;width:123.10px;top:788.54px;">2000</div>
<div class="dg c" style="left:911.50px;width:47.60px;top:788.54px;">3</div>
<div class="st c" style="left:959.10px;width:44.40px;top:787.74px;">★</div>
<div class="dg c" style="left:70.20px;width:54.30px;top:809.56px;">8</div>
<div class="nm c" style="left:123.30px;width:53.50px;top:808.76px;">水</div>
<div class="nm" style="left:179.80px;top:808.56px">水曜<span class="k" style="width:109.1px"><span style="transform:scaleX(0.86);letter-spacing:-3.60px">ブラボーリーグ</span></span></div>
<div class="sm c" style="left:594.30px;width:91.80px;top:812.26px;">11:00/14:00</div>
<div class="nm c" style="left:688px;width:20.50px;top:808.56px;">登</div>
<div class="nm c" style="left:725.75px;width:20.50px;top:808.56px;">録</div>
<div class="nm c" style="left:763.50px;width:20.50px;top:808.56px;">者</div>
<div class="dg c" style="left:788.40px;width:123.10px;top:809.56px;">1500</div>
<div class="dg c" style="left:911.50px;width:47.60px;top:809.56px;">3</div>
<div class="st c" style="left:959.10px;width:44.40px;top:808.76px;">★</div>
<div class="nm" style="left:179.80px;top:829.58px">ＫＳＢＣ</div>
<div class="dg c" style="left:592.80px;width:91.80px;top:830.58px;">11:00</div>
<div class="nm c" style="left:688px;width:15.58px;top:829.58px;transform:scaleX(0.86);transform-origin:50% 0;">ク</div>
<div class="nm c" style="left:705.64px;width:15.58px;top:829.58px;transform:scaleX(0.86);transform-origin:50% 0;">ラ</div>
<div class="nm c" style="left:723.29px;width:15.58px;top:829.58px;transform:scaleX(0.86);transform-origin:50% 0;">ブ</div>
<div class="nm c" style="left:740.93px;width:20.50px;top:829.58px;transform:scaleX(0.9);transform-origin:50% 0;">会</div>
<div class="nm c" style="left:763.50px;width:20.50px;top:829.58px;transform:scaleX(0.9);transform-origin:50% 0;">員</div>
<div class="dg c" style="left:911.50px;width:47.60px;top:830.58px;">3</div>
<div class="nm" style="left:179.80px;top:850.60px"><span class="k" style="width:167.3px"><span style="transform:scaleX(0.86);letter-spacing:-4.23px">オークラジュニアクラブ</span></span></div>
<div class="dg c" style="left:592.80px;width:91.80px;top:851.60px;">17:00</div>
<div class="nm" style="left:689.10px;top:851.30px;transform:scaleX(0.7595);">Jrクラブ会員</div>
<div class="nm" style="left:179.80px;top:871.62px"><span class="k" style="width:187.0px"><span style="transform:scaleX(0.86);letter-spacing:-3.80px">シニアトーナメントクラブ</span></span></div>
<div class="dg c" style="left:592.80px;width:91.80px;top:872.62px;">20:30</div>
<div class="nm c" style="left:688px;width:15.58px;top:871.62px;transform:scaleX(0.86);transform-origin:50% 0;">ク</div>
<div class="nm c" style="left:705.64px;width:15.58px;top:871.62px;transform:scaleX(0.86);transform-origin:50% 0;">ラ</div>
<div class="nm c" style="left:723.29px;width:15.58px;top:871.62px;transform:scaleX(0.86);transform-origin:50% 0;">ブ</div>
<div class="nm c" style="left:740.93px;width:20.50px;top:871.62px;transform:scaleX(0.9);transform-origin:50% 0;">会</div>
<div class="nm c" style="left:763.50px;width:20.50px;top:871.62px;transform:scaleX(0.9);transform-origin:50% 0;">員</div>
<div class="dg c" style="left:788.40px;width:123.10px;top:872.62px;">2200</div>
<div class="dg c" style="left:911.50px;width:47.60px;top:872.62px;">3</div>
<div class="st c" style="left:959.10px;width:44.40px;top:871.82px;">★</div>
<div class="nm" style="left:179.80px;top:892.64px"><span class="k" style="width:124.6px"><span style="transform:scaleX(0.86);letter-spacing:-3.76px">フリークスクラブ</span></span>月例会</div>
<div class="dg c" style="left:592.80px;width:91.80px;top:893.64px;">21:00</div>
<div class="nm c" style="left:688px;width:15.58px;top:892.64px;transform:scaleX(0.86);transform-origin:50% 0;">ク</div>
<div class="nm c" style="left:705.64px;width:15.58px;top:892.64px;transform:scaleX(0.86);transform-origin:50% 0;">ラ</div>
<div class="nm c" style="left:723.29px;width:15.58px;top:892.64px;transform:scaleX(0.86);transform-origin:50% 0;">ブ</div>
<div class="nm c" style="left:740.93px;width:20.50px;top:892.64px;transform:scaleX(0.9);transform-origin:50% 0;">会</div>
<div class="nm c" style="left:763.50px;width:20.50px;top:892.64px;transform:scaleX(0.9);transform-origin:50% 0;">員</div>
<div class="dg c" style="left:788.40px;width:123.10px;top:893.64px;">2000</div>
<div class="dg c" style="left:911.50px;width:47.60px;top:893.64px;">3</div>
<div class="st c" style="left:959.10px;width:44.40px;top:892.84px;">★</div>
<div class="dg c" style="left:70.20px;width:54.30px;top:914.66px;">9</div>
<div class="nm c" style="left:123.30px;width:53.50px;top:913.86px;">木</div>
<div class="nm" style="left:179.80px;top:913.66px">ＫＳＢＣ</div>
<div class="dg c" style="left:592.80px;width:91.80px;top:914.66px;">11:00</div>
<div class="nm c" style="left:688px;width:15.58px;top:913.66px;transform:scaleX(0.86);transform-origin:50% 0;">ク</div>
<div class="nm c" style="left:705.64px;width:15.58px;top:913.66px;transform:scaleX(0.86);transform-origin:50% 0;">ラ</div>
<div class="nm c" style="left:723.29px;width:15.58px;top:913.66px;transform:scaleX(0.86);transform-origin:50% 0;">ブ</div>
<div class="nm c" style="left:740.93px;width:20.50px;top:913.66px;transform:scaleX(0.9);transform-origin:50% 0;">会</div>
<div class="nm c" style="left:763.50px;width:20.50px;top:913.66px;transform:scaleX(0.9);transform-origin:50% 0;">員</div>
<div class="dg c" style="left:911.50px;width:47.60px;top:914.66px;">3</div>
<div class="nm" style="left:179.80px;top:934.68px"><span class="k" style="width:171.4px"><span style="transform:scaleX(0.86);letter-spacing:-3.61px">サーズデートーナメント</span></span></div>
<div class="dg c" style="left:592.80px;width:91.80px;top:935.68px;">13:30</div>
<div class="nm c" style="left:688px;width:20.50px;top:934.68px;">自</div>
<div class="nm c" style="left:763.50px;width:20.50px;top:934.68px;">由</div>
<div class="dg c" style="left:788.40px;width:123.10px;top:935.68px;">2600</div>
<div class="dg c" style="left:911.50px;width:47.60px;top:935.68px;">4</div>
<svg class="b" style="left:1019.05px;top:938.78px" width="14" height="14" viewBox="0 0 14 14"><circle cx="7" cy="7" r="5.9" fill="none" stroke="#000" stroke-width="1.0"/><circle cx="7" cy="7" r="3.7" fill="none" stroke="#000" stroke-width="1.0"/></svg>
<div class="nm" style="left:179.80px;top:955.70px">ＴＢＡ世田谷支部</div>
<div class="dg c" style="left:592.80px;width:91.80px;top:956.70px;">20:30</div>
<div class="nm c" style="left:688px;width:15.58px;top:955.70px;transform:scaleX(0.86);transform-origin:50% 0;">ク</div>
<div class="nm c" style="left:705.64px;width:15.58px;top:955.70px;transform:scaleX(0.86);transform-origin:50% 0;">ラ</div>
<div class="nm c" style="left:723.29px;width:15.58px;top:955.70px;transform:scaleX(0.86);transform-origin:50% 0;">ブ</div>
<div class="nm c" style="left:740.93px;width:20.50px;top:955.70px;transform:scaleX(0.9);transform-origin:50% 0;">会</div>
<div class="nm c" style="left:763.50px;width:20.50px;top:955.70px;transform:scaleX(0.9);transform-origin:50% 0;">員</div>
<div class="dg c" style="left:788.40px;width:123.10px;top:956.70px;">2000</div>
<div class="dg c" style="left:911.50px;width:47.60px;top:956.70px;">3</div>
<div class="st c" style="left:959.10px;width:44.40px;top:955.90px;">★</div>
<div class="dg c" style="left:70.20px;width:54.30px;top:977.72px;">10</div>
<div class="nm c" style="left:123.30px;width:53.50px;top:976.92px;">金</div>
<div class="nm" style="left:179.80px;top:976.72px">金曜<span class="k" style="width:109.1px"><span style="transform:scaleX(0.86);letter-spacing:-3.60px">ブラボーリーグ</span></span></div>
<div class="dg c" style="left:592.80px;width:91.80px;top:977.72px;">11:00</div>
<div class="nm c" style="left:688px;width:20.50px;top:976.72px;">登</div>
<div class="nm c" style="left:725.75px;width:20.50px;top:976.72px;">録</div>
<div class="nm c" style="left:763.50px;width:20.50px;top:976.72px;">者</div>
<div class="dg c" style="left:788.40px;width:123.10px;top:977.72px;">1500</div>
<div class="dg c" style="left:911.50px;width:47.60px;top:977.72px;">3</div>
<div class="st c" style="left:959.10px;width:44.40px;top:976.92px;">★</div>
<div class="nm" style="left:179.80px;top:997.74px">並木恵美子<span class="k" style="width:31.2px"><span style="transform:scaleX(0.86);letter-spacing:-3.88px">プロ</span></span> <span class="k" style="width:178.8px"><span style="transform:scaleX(0.86);letter-spacing:-4.68px">ステップアップボウリング</span></span></div>
<div class="dg c" style="left:592.80px;width:91.80px;top:998.74px;">13:30</div>
<div class="nm c" style="left:688px;width:20.50px;top:997.74px;">自</div>
<div class="nm c" style="left:763.50px;width:20.50px;top:997.74px;">由</div>
<div class="dg c" style="left:788.40px;width:123.10px;top:998.74px;letter-spacing:-0.4px">2500/Jr1300</div>
<div class="nm" style="left:179.80px;top:1018.76px"><span class="k" style="width:167.3px"><span style="transform:scaleX(0.86);letter-spacing:-4.23px">オークラジュニアクラブ</span></span></div>
<div class="dg c" style="left:592.80px;width:91.80px;top:1019.76px;">17:00</div>
<div class="nm" style="left:689.10px;top:1019.46px;transform:scaleX(0.7595);">Jrクラブ会員</div>
<div class="nm" style="left:179.80px;top:1039.78px"><span class="k" style="width:171.4px"><span style="transform:scaleX(0.86);letter-spacing:-3.70px">マスターズクラブリーグ</span></span></div>
<div class="dg c" style="left:592.80px;width:91.80px;top:1040.78px;">20:45</div>
<div class="nm c" style="left:688px;width:15.58px;top:1039.78px;transform:scaleX(0.86);transform-origin:50% 0;">ク</div>
<div class="nm c" style="left:705.64px;width:15.58px;top:1039.78px;transform:scaleX(0.86);transform-origin:50% 0;">ラ</div>
<div class="nm c" style="left:723.29px;width:15.58px;top:1039.78px;transform:scaleX(0.86);transform-origin:50% 0;">ブ</div>
<div class="nm c" style="left:740.93px;width:20.50px;top:1039.78px;transform:scaleX(0.9);transform-origin:50% 0;">会</div>
<div class="nm c" style="left:763.50px;width:20.50px;top:1039.78px;transform:scaleX(0.9);transform-origin:50% 0;">員</div>
<div class="dg c" style="left:788.40px;width:123.10px;top:1040.78px;">2000</div>
<div class="dg c" style="left:911.50px;width:47.60px;top:1040.78px;">3</div>
<div class="st c" style="left:959.10px;width:44.40px;top:1039.98px;">★</div>
<div class="nm" style="left:179.80px;top:1060.80px"><span class="k" style="width:136.1px"><span style="transform:scaleX(0.86);letter-spacing:-4.30px">クレイジーラビット</span></span>月例会</div>
<div class="dg c" style="left:592.80px;width:91.80px;top:1061.80px;">21:15</div>
<div class="nm c" style="left:688px;width:15.58px;top:1060.80px;transform:scaleX(0.86);transform-origin:50% 0;">ク</div>
<div class="nm c" style="left:705.64px;width:15.58px;top:1060.80px;transform:scaleX(0.86);transform-origin:50% 0;">ラ</div>
<div class="nm c" style="left:723.29px;width:15.58px;top:1060.80px;transform:scaleX(0.86);transform-origin:50% 0;">ブ</div>
<div class="nm c" style="left:740.93px;width:20.50px;top:1060.80px;transform:scaleX(0.9);transform-origin:50% 0;">会</div>
<div class="nm c" style="left:763.50px;width:20.50px;top:1060.80px;transform:scaleX(0.9);transform-origin:50% 0;">員</div>
<div class="dg c" style="left:788.40px;width:123.10px;top:1061.80px;">2000</div>
<div class="dg c" style="left:911.50px;width:47.60px;top:1061.80px;">3</div>
<div class="st c" style="left:959.10px;width:44.40px;top:1061px;">★</div>
<div class="dg c" style="left:70.20px;width:54.30px;top:1082.82px;">11</div>
<div class="nm c" style="left:123.30px;width:53.50px;top:1082.02px;">土</div>
<div class="nm" style="left:179.80px;top:1081.82px"><span class="k" style="width:73.8px"><span style="transform:scaleX(0.86);letter-spacing:-4.84px">スタチャレ</span></span></div>
<div class="dg c" style="left:592.80px;width:91.80px;top:1082.82px;">9:30</div>
<div class="nm c" style="left:688px;width:20.50px;top:1081.82px;">自</div>
<div class="nm c" style="left:763.50px;width:20.50px;top:1081.82px;">由</div>
<div class="dg c" style="left:788.40px;width:123.10px;top:1082.82px;">3000</div>
<div class="dg c" style="left:911.50px;width:47.60px;top:1082.82px;">4</div>
<svg class="b" style="left:1019.05px;top:1085.92px" width="14" height="14" viewBox="0 0 14 14"><circle cx="7" cy="7" r="5.9" fill="none" stroke="#000" stroke-width="1.0"/><circle cx="7" cy="7" r="3.7" fill="none" stroke="#000" stroke-width="1.0"/></svg>
<div class="nm" style="left:179.80px;top:1102.84px"><span class="k" style="width:167.3px"><span style="transform:scaleX(0.86);letter-spacing:-4.14px">オークラスタッフリーグ</span></span></div>
<div class="dg c" style="left:592.80px;width:91.80px;top:1103.84px;">12:45</div>
<div class="nm c" style="left:688px;width:20.50px;top:1102.84px;">登</div>
<div class="nm c" style="left:725.75px;width:20.50px;top:1102.84px;">録</div>
<div class="nm c" style="left:763.50px;width:20.50px;top:1102.84px;">者</div>
<div class="dg c" style="left:788.40px;width:123.10px;top:1103.84px;">2500</div>
<div class="dg c" style="left:911.50px;width:47.60px;top:1103.84px;">3</div>
<div class="st c" style="left:959.10px;width:44.40px;top:1103.04px;">★</div>
<div class="nm" style="left:179.80px;top:1123.86px">世田谷第二支部</div>
<div class="dg c" style="left:592.80px;width:91.80px;top:1124.86px;">15:00</div>
<div class="nm c" style="left:688px;width:15.58px;top:1123.86px;transform:scaleX(0.86);transform-origin:50% 0;">ク</div>
<div class="nm c" style="left:705.64px;width:15.58px;top:1123.86px;transform:scaleX(0.86);transform-origin:50% 0;">ラ</div>
<div class="nm c" style="left:723.29px;width:15.58px;top:1123.86px;transform:scaleX(0.86);transform-origin:50% 0;">ブ</div>
<div class="nm c" style="left:740.93px;width:20.50px;top:1123.86px;transform:scaleX(0.9);transform-origin:50% 0;">会</div>
<div class="nm c" style="left:763.50px;width:20.50px;top:1123.86px;transform:scaleX(0.9);transform-origin:50% 0;">員</div>
<div class="dg c" style="left:911.50px;width:47.60px;top:1124.86px;">4</div>
<div class="nm" style="left:179.80px;top:1144.88px">中央<span class="k" style="width:77.9px"><span style="transform:scaleX(0.86);letter-spacing:-3.68px">ボウラーズ</span></span></div>
<div class="dg c" style="left:592.80px;width:91.80px;top:1145.88px;">15:00</div>
<div class="nm c" style="left:688px;width:15.58px;top:1144.88px;transform:scaleX(0.86);transform-origin:50% 0;">ク</div>
<div class="nm c" style="left:705.64px;width:15.58px;top:1144.88px;transform:scaleX(0.86);transform-origin:50% 0;">ラ</div>
<div class="nm c" style="left:723.29px;width:15.58px;top:1144.88px;transform:scaleX(0.86);transform-origin:50% 0;">ブ</div>
<div class="nm c" style="left:740.93px;width:20.50px;top:1144.88px;transform:scaleX(0.9);transform-origin:50% 0;">会</div>
<div class="nm c" style="left:763.50px;width:20.50px;top:1144.88px;transform:scaleX(0.9);transform-origin:50% 0;">員</div>
<div class="dg c" style="left:911.50px;width:47.60px;top:1145.88px;">4</div>
<div class="nm" style="left:179.80px;top:1165.90px">ＴＢＡ目黒支部月例会</div>
<div class="dg c" style="left:592.80px;width:91.80px;top:1166.90px;">20:00</div>
<div class="nm c" style="left:688px;width:15.58px;top:1165.90px;transform:scaleX(0.86);transform-origin:50% 0;">ク</div>
<div class="nm c" style="left:705.64px;width:15.58px;top:1165.90px;transform:scaleX(0.86);transform-origin:50% 0;">ラ</div>
<div class="nm c" style="left:723.29px;width:15.58px;top:1165.90px;transform:scaleX(0.86);transform-origin:50% 0;">ブ</div>
<div class="nm c" style="left:740.93px;width:20.50px;top:1165.90px;transform:scaleX(0.9);transform-origin:50% 0;">会</div>
<div class="nm c" style="left:763.50px;width:20.50px;top:1165.90px;transform:scaleX(0.9);transform-origin:50% 0;">員</div>
<div class="dg c" style="left:911.50px;width:47.60px;top:1166.90px;">4</div>
<div class="nm" style="left:179.80px;top:1186.92px"><span class="k" style="width:73.8px"><span style="transform:scaleX(0.86);letter-spacing:-4.84px">スタチャレ</span></span></div>
<div class="dg c" style="left:592.80px;width:91.80px;top:1187.92px;">21:00</div>
<div class="nm c" style="left:688px;width:20.50px;top:1186.92px;">自</div>
<div class="nm c" style="left:763.50px;width:20.50px;top:1186.92px;">由</div>
<div class="dg c" style="left:788.40px;width:123.10px;top:1187.92px;">2450</div>
<div class="dg c" style="left:911.50px;width:47.60px;top:1187.92px;">3</div>
<svg class="b" style="left:1019.05px;top:1191.02px" width="14" height="14" viewBox="0 0 14 14"><circle cx="7" cy="7" r="5.9" fill="none" stroke="#000" stroke-width="1.0"/><circle cx="7" cy="7" r="3.7" fill="none" stroke="#000" stroke-width="1.0"/></svg>
<div class="b" style="left:589.80px;top:1184.02px;width:97.50px;height:1.80px;background:#000"></div>
<div class="b" style="left:589.80px;top:1208.22px;width:97.50px;height:1.80px;background:#000"></div>
<div class="b" style="left:589.80px;top:1184.02px;width:1.80px;height:26px;background:#000"></div>
<div class="b" style="left:685.50px;top:1184.02px;width:1.80px;height:26px;background:#000"></div>
<div class="b" style="left:593.80px;top:1187.72px;width:89.80px;height:1.50px;background:#000"></div>
<div class="b" style="left:593.80px;top:1204.92px;width:89.80px;height:1.50px;background:#000"></div>
<div class="b" style="left:593.80px;top:1187.72px;width:1.50px;height:18.70px;background:#000"></div>
<div class="b" style="left:682.10px;top:1187.72px;width:1.50px;height:18.70px;background:#000"></div>
<div class="dg c" style="left:70.20px;width:54.30px;top:1208.94px;">12</div>
<div class="nm c" style="left:123.30px;width:53.50px;top:1208.14px;">日</div>
<div class="nm" style="left:179.80px;top:1207.94px">９２４<span class="k" style="width:46.7px"><span style="transform:scaleX(0.86);letter-spacing:-3.88px">クラブ</span></span></div>
<div class="dg c" style="left:592.80px;width:91.80px;top:1208.94px;">10:00</div>
<div class="nm c" style="left:688px;width:15.58px;top:1207.94px;transform:scaleX(0.86);transform-origin:50% 0;">ク</div>
<div class="nm c" style="left:705.64px;width:15.58px;top:1207.94px;transform:scaleX(0.86);transform-origin:50% 0;">ラ</div>
<div class="nm c" style="left:723.29px;width:15.58px;top:1207.94px;transform:scaleX(0.86);transform-origin:50% 0;">ブ</div>
<div class="nm c" style="left:740.93px;width:20.50px;top:1207.94px;transform:scaleX(0.9);transform-origin:50% 0;">会</div>
<div class="nm c" style="left:763.50px;width:20.50px;top:1207.94px;transform:scaleX(0.9);transform-origin:50% 0;">員</div>
<div class="dg c" style="left:911.50px;width:47.60px;top:1208.94px;">3</div>
<div class="st c" style="left:959.10px;width:44.40px;top:1208.14px;">★</div>
<div class="nm" style="left:179.80px;top:1228.96px"><span class="k" style="width:140.2px"><span style="transform:scaleX(0.86);letter-spacing:-3.88px">レストランやまぐち</span></span></div>
<div class="dg c" style="left:592.80px;width:91.80px;top:1229.96px;">17:00</div>
<div class="nm c" style="left:688px;width:15.58px;top:1228.96px;transform:scaleX(0.86);transform-origin:50% 0;">ク</div>
<div class="nm c" style="left:705.64px;width:15.58px;top:1228.96px;transform:scaleX(0.86);transform-origin:50% 0;">ラ</div>
<div class="nm c" style="left:723.29px;width:15.58px;top:1228.96px;transform:scaleX(0.86);transform-origin:50% 0;">ブ</div>
<div class="nm c" style="left:740.93px;width:20.50px;top:1228.96px;transform:scaleX(0.9);transform-origin:50% 0;">会</div>
<div class="nm c" style="left:763.50px;width:20.50px;top:1228.96px;transform:scaleX(0.9);transform-origin:50% 0;">員</div>
<div class="dg c" style="left:911.50px;width:47.60px;top:1229.96px;">2</div>
<div class="nm" style="left:179.80px;top:1249.98px">自由<span class="k" style="width:15.6px"><span style="transform:scaleX(0.86);letter-spacing:-3.88px">が</span></span>丘<span class="k" style="width:46.7px"><span style="transform:scaleX(0.86);letter-spacing:-3.88px">クラブ</span></span>月例会</div>
<div class="dg c" style="left:592.80px;width:91.80px;top:1250.98px;">19:30</div>
<div class="nm c" style="left:688px;width:15.58px;top:1249.98px;transform:scaleX(0.86);transform-origin:50% 0;">ク</div>
<div class="nm c" style="left:705.64px;width:15.58px;top:1249.98px;transform:scaleX(0.86);transform-origin:50% 0;">ラ</div>
<div class="nm c" style="left:723.29px;width:15.58px;top:1249.98px;transform:scaleX(0.86);transform-origin:50% 0;">ブ</div>
<div class="nm c" style="left:740.93px;width:20.50px;top:1249.98px;transform:scaleX(0.9);transform-origin:50% 0;">会</div>
<div class="nm c" style="left:763.50px;width:20.50px;top:1249.98px;transform:scaleX(0.9);transform-origin:50% 0;">員</div>
<div class="dg c" style="left:911.50px;width:47.60px;top:1250.98px;">4</div>
<div class="st c" style="left:959.10px;width:44.40px;top:1250.18px;">★</div>
<div class="dg c" style="left:70.20px;width:54.30px;top:1272px;">13</div>
<div class="nm c" style="left:123.30px;width:53.50px;top:1271.20px;">月</div>
<div class="nm" style="left:179.80px;top:1271px">第７５回区民体育大会</div>
<div class="dg c" style="left:592.80px;width:91.80px;top:1272px;">9:00</div>
<div class="nm c" style="left:688px;width:20.50px;top:1271px;">登</div>
<div class="nm c" style="left:725.75px;width:20.50px;top:1271px;">録</div>
<div class="nm c" style="left:763.50px;width:20.50px;top:1271px;">者</div>
<div class="st c" style="left:959.10px;width:44.40px;top:1271.20px;">★</div>
<div class="nm" style="left:179.80px;top:1292.02px"><span class="k" style="width:171.4px"><span style="transform:scaleX(0.86);letter-spacing:-3.70px">フリークスクラブリーグ</span></span></div>
<div class="dg c" style="left:592.80px;width:91.80px;top:1293.02px;">21:00</div>
<div class="nm c" style="left:688px;width:15.58px;top:1292.02px;transform:scaleX(0.86);transform-origin:50% 0;">ク</div>
<div class="nm c" style="left:705.64px;width:15.58px;top:1292.02px;transform:scaleX(0.86);transform-origin:50% 0;">ラ</div>
<div class="nm c" style="left:723.29px;width:15.58px;top:1292.02px;transform:scaleX(0.86);transform-origin:50% 0;">ブ</div>
<div class="nm c" style="left:740.93px;width:20.50px;top:1292.02px;transform:scaleX(0.9);transform-origin:50% 0;">会</div>
<div class="nm c" style="left:763.50px;width:20.50px;top:1292.02px;transform:scaleX(0.9);transform-origin:50% 0;">員</div>
<div class="dg c" style="left:788.40px;width:123.10px;top:1293.02px;">2000</div>
<div class="dg c" style="left:911.50px;width:47.60px;top:1293.02px;">3</div>
<div class="st c" style="left:959.10px;width:44.40px;top:1292.22px;">★</div>
<div class="dg c" style="left:70.20px;width:54.30px;top:1314.04px;">14</div>
<div class="nm c" style="left:123.30px;width:53.50px;top:1313.24px;">火</div>
<div class="nm" style="left:179.80px;top:1313.04px"><span class="k" style="width:182.9px"><span style="transform:scaleX(0.86);letter-spacing:-4.03px">チューズデートーナメント</span></span></div>
<div class="dg c" style="left:592.80px;width:91.80px;top:1314.04px;">13:30</div>
<div class="nm c" style="left:688px;width:20.50px;top:1313.04px;">自</div>
<div class="nm c" style="left:763.50px;width:20.50px;top:1313.04px;">由</div>
<div class="dg c" style="left:788.40px;width:123.10px;top:1314.04px;">2600</div>
<div class="dg c" style="left:911.50px;width:47.60px;top:1314.04px;">4</div>
<svg class="b" style="left:1019.05px;top:1317.14px" width="14" height="14" viewBox="0 0 14 14"><circle cx="7" cy="7" r="5.9" fill="none" stroke="#000" stroke-width="1.0"/><circle cx="7" cy="7" r="3.7" fill="none" stroke="#000" stroke-width="1.0"/></svg>
<div class="nm" style="left:179.80px;top:1334.06px">個人<span class="k" style="width:62.3px"><span style="transform:scaleX(0.86);letter-spacing:-3.63px">タクシー</span></span></div>
<div class="dg c" style="left:592.80px;width:91.80px;top:1335.06px;">14:00</div>
<div class="nm c" style="left:688px;width:15.58px;top:1334.06px;transform:scaleX(0.86);transform-origin:50% 0;">ク</div>
<div class="nm c" style="left:705.64px;width:15.58px;top:1334.06px;transform:scaleX(0.86);transform-origin:50% 0;">ラ</div>
<div class="nm c" style="left:723.29px;width:15.58px;top:1334.06px;transform:scaleX(0.86);transform-origin:50% 0;">ブ</div>
<div class="nm c" style="left:740.93px;width:20.50px;top:1334.06px;transform:scaleX(0.9);transform-origin:50% 0;">会</div>
<div class="nm c" style="left:763.50px;width:20.50px;top:1334.06px;transform:scaleX(0.9);transform-origin:50% 0;">員</div>
<div class="dg c" style="left:911.50px;width:47.60px;top:1335.06px;">4</div>
<div class="nm" style="left:179.80px;top:1355.08px">自由<span class="k" style="width:15.6px"><span style="transform:scaleX(0.86);letter-spacing:-3.88px">が</span></span>丘<span class="k" style="width:93.5px"><span style="transform:scaleX(0.86);letter-spacing:-3.72px">クラブリーグ</span></span></div>
<div class="dg c" style="left:592.80px;width:91.80px;top:1356.08px;">20:45</div>
<div class="nm c" style="left:688px;width:15.58px;top:1355.08px;transform:scaleX(0.86);transform-origin:50% 0;">ク</div>
<div class="nm c" style="left:705.64px;width:15.58px;top:1355.08px;transform:scaleX(0.86);transform-origin:50% 0;">ラ</div>
<div class="nm c" style="left:723.29px;width:15.58px;top:1355.08px;transform:scaleX(0.86);transform-origin:50% 0;">ブ</div>
<div class="nm c" style="left:740.93px;width:20.50px;top:1355.08px;transform:scaleX(0.9);transform-origin:50% 0;">会</div>
<div class="nm c" style="left:763.50px;width:20.50px;top:1355.08px;transform:scaleX(0.9);transform-origin:50% 0;">員</div>
<div class="dg c" style="left:788.40px;width:123.10px;top:1356.08px;">2000</div>
<div class="dg c" style="left:911.50px;width:47.60px;top:1356.08px;">3</div>
<div class="st c" style="left:959.10px;width:44.40px;top:1355.28px;">★</div>
<div class="dg c" style="left:70.20px;width:54.30px;top:1377.10px;">15</div>
<div class="nm c" style="left:123.30px;width:53.50px;top:1376.30px;">水</div>
<div class="nm" style="left:179.80px;top:1376.10px">水曜<span class="k" style="width:109.1px"><span style="transform:scaleX(0.86);letter-spacing:-3.60px">ブラボーリーグ</span></span></div>
<div class="sm c" style="left:594.30px;width:91.80px;top:1379.80px;">11:00/14:00</div>
<div class="nm c" style="left:688px;width:20.50px;top:1376.10px;">登</div>
<div class="nm c" style="left:725.75px;width:20.50px;top:1376.10px;">録</div>
<div class="nm c" style="left:763.50px;width:20.50px;top:1376.10px;">者</div>
<div class="dg c" style="left:788.40px;width:123.10px;top:1377.10px;">1500</div>
<div class="dg c" style="left:911.50px;width:47.60px;top:1377.10px;">3</div>
<div class="nm" style="left:179.80px;top:1397.12px"><span class="k" style="width:167.3px"><span style="transform:scaleX(0.86);letter-spacing:-4.23px">オークラジュニアクラブ</span></span></div>
<div class="dg c" style="left:592.80px;width:91.80px;top:1398.12px;">17:00</div>
<div class="nm" style="left:689.10px;top:1397.82px;transform:scaleX(0.7595);">Jrクラブ会員</div>
<div class="nm" style="left:179.80px;top:1418.14px">ＴＢＡ目黒支部</div>
<div class="dg c" style="left:592.80px;width:91.80px;top:1419.14px;">20:30</div>
<div class="nm c" style="left:688px;width:15.58px;top:1418.14px;transform:scaleX(0.86);transform-origin:50% 0;">ク</div>
<div class="nm c" style="left:705.64px;width:15.58px;top:1418.14px;transform:scaleX(0.86);transform-origin:50% 0;">ラ</div>
<div class="nm c" style="left:723.29px;width:15.58px;top:1418.14px;transform:scaleX(0.86);transform-origin:50% 0;">ブ</div>
<div class="nm c" style="left:740.93px;width:20.50px;top:1418.14px;transform:scaleX(0.9);transform-origin:50% 0;">会</div>
<div class="nm c" style="left:763.50px;width:20.50px;top:1418.14px;transform:scaleX(0.9);transform-origin:50% 0;">員</div>
<div class="dg c" style="left:788.40px;width:123.10px;top:1419.14px;">3000</div>
<div class="dg c" style="left:911.50px;width:47.60px;top:1419.14px;">4</div>
<div class="b" style="left:65.50px;top:679.14px;width:984px;height:1.60px;background:#000"></div>
<div class="b" style="left:65.50px;top:808.16px;width:984px;height:1.60px;background:#000"></div>
<div class="b" style="left:65.50px;top:679.14px;width:1.60px;height:130.62px;background:#000"></div>
<div class="b" style="left:1047.90px;top:679.14px;width:1.60px;height:130.62px;background:#000"></div>
<div class="b" style="left:67.10px;top:680.74px;width:980.80px;height:2.20px;background:#fff"></div>
<div class="b" style="left:67.10px;top:806.26px;width:980.80px;height:1.90px;background:#fff"></div>
<div class="b" style="left:67.10px;top:680.74px;width:1.80px;height:127.42px;background:#fff"></div>
<div class="b" style="left:1046.10px;top:680.74px;width:1.80px;height:127.42px;background:#fff"></div>
<div class="b" style="left:69.20px;top:682.94px;width:976.70px;height:1.60px;background:#000"></div>
<div class="b" style="left:69.20px;top:804.66px;width:976.70px;height:1.60px;background:#000"></div>
<div class="b" style="left:69.20px;top:682.94px;width:1.60px;height:123.32px;background:#000"></div>
<div class="b" style="left:1044.30px;top:682.94px;width:1.60px;height:123.32px;background:#000"></div>
<div class="b" style="left:1101.30px;top:282.76px;width:977.70px;height:105.10px;background:#d9d9d9"></div>
<div class="b" style="left:1101.30px;top:387.86px;width:977.70px;height:105.10px;background:#d9d9d9"></div>
<div class="b" style="left:1101.30px;top:934.38px;width:977.70px;height:105.10px;background:#d9d9d9"></div>
<div class="b" style="left:1101.30px;top:1039.48px;width:977.70px;height:42.04px;background:#d9d9d9"></div>
<div class="b" style="left:1209px;top:114.60px;width:870px;height:21.02px;background:#ffff00"></div>
<div class="b" style="left:1209px;top:282.76px;width:870px;height:21.02px;background:#ffff00"></div>
<div class="b" style="left:1209px;top:471.94px;width:870px;height:21.02px;background:#ffff00"></div>
<div class="b" style="left:1209px;top:598.06px;width:870px;height:21.02px;background:#ffff00"></div>
<div class="b" style="left:1209px;top:787.24px;width:870px;height:21.02px;background:#ffff00"></div>
<div class="b" style="left:1209px;top:934.38px;width:870px;height:21.02px;background:#ffff00"></div>
<div class="b" style="left:1209px;top:1018.46px;width:870px;height:21.02px;background:#ffff00"></div>
<div class="b" style="left:1209px;top:1060.50px;width:870px;height:21.02px;background:#ffff00"></div>
<div class="b" style="left:1209px;top:1165.60px;width:870px;height:21.02px;background:#ffff00"></div>
<div class="b" style="left:1209px;top:1333.76px;width:870px;height:21.02px;background:#ffff00"></div>
<div class="b" style="left:1101.30px;top:156px;width:977.70px;height:2px;background:#5a5a5a"></div>
<div class="b" style="left:1101.30px;top:282px;width:977.70px;height:2px;background:#5a5a5a"></div>
<div class="b" style="left:1101.30px;top:387px;width:977.70px;height:2px;background:#5a5a5a"></div>
<div class="b" style="left:1101.30px;top:492px;width:977.70px;height:2px;background:#5a5a5a"></div>
<div class="b" style="left:1101.30px;top:576px;width:977.70px;height:2px;background:#5a5a5a"></div>
<div class="b" style="left:1101.30px;top:702px;width:977.70px;height:2px;background:#5a5a5a"></div>
<div class="b" style="left:1101.30px;top:786px;width:977.70px;height:2px;background:#5a5a5a"></div>
<div class="b" style="left:1101.30px;top:828px;width:977.70px;height:2px;background:#5a5a5a"></div>
<div class="b" style="left:1101.30px;top:933px;width:977.70px;height:2px;background:#5a5a5a"></div>
<div class="b" style="left:1101.30px;top:1038px;width:977.70px;height:2px;background:#5a5a5a"></div>
<div class="b" style="left:1101.30px;top:1081px;width:977.70px;height:2px;background:#5a5a5a"></div>
<div class="b" style="left:1101.30px;top:1165px;width:977.70px;height:2px;background:#5a5a5a"></div>
<div class="b" style="left:1101.30px;top:1249px;width:977.70px;height:2px;background:#5a5a5a"></div>
<div class="b" style="left:1101.30px;top:1333px;width:977.70px;height:2px;background:#5a5a5a"></div>
<div class="b" style="left:1101.30px;top:1375px;width:977.70px;height:2px;background:#5a5a5a"></div>
<div class="b" style="left:1101.30px;top:113.35px;width:977.70px;height:2.50px;background:#000"></div>
<div class="b" style="left:1155px;top:93.30px;width:1px;height:1389.50px;background:#000"></div>
<div class="b" style="left:1208.50px;top:93.30px;width:1px;height:1389.50px;background:#000"></div>
<div class="b" style="left:1625.30px;top:93.30px;width:1px;height:1389.50px;background:#000"></div>
<div class="b" style="left:1717.20px;top:93.30px;width:1px;height:1389.50px;background:#000"></div>
<div class="b" style="left:1821px;top:93.30px;width:1px;height:1389.50px;background:#000"></div>
<div class="b" style="left:1943.90px;top:93.30px;width:1px;height:1389.50px;background:#000"></div>
<div class="b" style="left:1991.90px;top:93.30px;width:1px;height:1389.50px;background:#000"></div>
<div class="b" style="left:2035.50px;top:93.30px;width:1px;height:1389.50px;background:#000"></div>
<div class="b" style="left:1100.10px;top:92.10px;width:980.10px;height:2.40px;background:#000"></div>
<div class="b" style="left:1100.10px;top:1481.60px;width:980.10px;height:2.70px;background:#000"></div>
<div class="b" style="left:1100.10px;top:92.10px;width:2.40px;height:1392.20px;background:#000"></div>
<div class="b" style="left:2077.80px;top:92.10px;width:2.40px;height:1392.20px;background:#000"></div>
<div class="hd" style="left:1113.40px;top:94.60px;font-size:17px;transform:scaleX(0.9118);">日付</div>
<div class="hd" style="left:1167.25px;top:94.60px;font-size:17px;transform:scaleX(0.9118);">曜日</div>
<div class="hd" style="left:1388.90px;top:93.60px;font-size:20.5px;transform:scaleX(0.9841);">大会名</div>
<div class="hd" style="left:1646.25px;top:94.60px;font-size:17px;transform:scaleX(0.7647);">スタート</div>
<div class="hd" style="left:1736.60px;top:94.60px;font-size:17px;transform:scaleX(0.9853);">参加資格</div>
<div class="hd" style="left:1843.45px;top:94.60px;font-size:17px;transform:scaleX(1.0085);">参加費(円)</div>
<div class="hd" style="left:1950.90px;top:94.60px;font-size:17px;transform:scaleX(1.0000);">ｹﾞｰﾑ</div>
<div class="hd" style="left:1998.70px;top:94.60px;font-size:17px;transform:scaleX(0.9412);">公認</div>
<div class="hd" style="left:2041.50px;top:94.60px;font-size:17px;transform:scaleX(0.9706);">主催</div>
<div class="dg c" style="left:1103.50px;width:54.20px;top:115.90px;">16</div>
<div class="nm c" style="left:1156.50px;width:53.50px;top:115.10px;">木</div>
<div class="nm" style="left:1213px;top:114.90px"><span class="k" style="width:171.4px"><span style="transform:scaleX(0.86);letter-spacing:-3.61px">サーズデートーナメント</span></span></div>
<div class="dg c" style="left:1625.80px;width:91.90px;top:115.90px;">13:30</div>
<div class="nm c" style="left:1721.10px;width:20.50px;top:114.90px;">自</div>
<div class="nm c" style="left:1796.60px;width:20.50px;top:114.90px;">由</div>
<div class="dg c" style="left:1821.50px;width:122.90px;top:115.90px;">2600</div>
<div class="dg c" style="left:1944.40px;width:48px;top:115.90px;">4</div>
<svg class="b" style="left:2051.30px;top:119px" width="14" height="14" viewBox="0 0 14 14"><circle cx="7" cy="7" r="5.9" fill="none" stroke="#000" stroke-width="1.0"/><circle cx="7" cy="7" r="3.7" fill="none" stroke="#000" stroke-width="1.0"/></svg>
<div class="nm" style="left:1213px;top:135.92px">ＴＢＡ世田谷支部</div>
<div class="dg c" style="left:1625.80px;width:91.90px;top:136.92px;">20:30</div>
<div class="nm c" style="left:1721.10px;width:15.58px;top:135.92px;transform:scaleX(0.86);transform-origin:50% 0;">ク</div>
<div class="nm c" style="left:1738.75px;width:15.58px;top:135.92px;transform:scaleX(0.86);transform-origin:50% 0;">ラ</div>
<div class="nm c" style="left:1756.39px;width:15.58px;top:135.92px;transform:scaleX(0.86);transform-origin:50% 0;">ブ</div>
<div class="nm c" style="left:1774.04px;width:20.50px;top:135.92px;transform:scaleX(0.9);transform-origin:50% 0;">会</div>
<div class="nm c" style="left:1796.60px;width:20.50px;top:135.92px;transform:scaleX(0.9);transform-origin:50% 0;">員</div>
<div class="dg c" style="left:1821.50px;width:122.90px;top:136.92px;">2000</div>
<div class="dg c" style="left:1944.40px;width:48px;top:136.92px;">3</div>
<div class="st c" style="left:1992.40px;width:43.60px;top:136.12px;">★</div>
<div class="dg c" style="left:1103.50px;width:54.20px;top:157.94px;">17</div>
<div class="nm c" style="left:1156.50px;width:53.50px;top:157.14px;">金</div>
<div class="nm" style="left:1213px;top:156.94px">金曜<span class="k" style="width:109.1px"><span style="transform:scaleX(0.86);letter-spacing:-3.60px">ブラボーリーグ</span></span></div>
<div class="dg c" style="left:1625.80px;width:91.90px;top:157.94px;">11:00</div>
<div class="nm c" style="left:1721.10px;width:20.50px;top:156.94px;">登</div>
<div class="nm c" style="left:1758.85px;width:20.50px;top:156.94px;">録</div>
<div class="nm c" style="left:1796.60px;width:20.50px;top:156.94px;">者</div>
<div class="dg c" style="left:1821.50px;width:122.90px;top:157.94px;">1500</div>
<div class="dg c" style="left:1944.40px;width:48px;top:157.94px;">3</div>
<div class="nm" style="left:1213px;top:177.96px">並木恵美子<span class="k" style="width:31.2px"><span style="transform:scaleX(0.86);letter-spacing:-3.88px">プロ</span></span> <span class="k" style="width:178.8px"><span style="transform:scaleX(0.86);letter-spacing:-4.68px">ステップアップボウリング</span></span></div>
<div class="dg c" style="left:1625.80px;width:91.90px;top:178.96px;">13:30</div>
<div class="nm c" style="left:1721.10px;width:20.50px;top:177.96px;">自</div>
<div class="nm c" style="left:1796.60px;width:20.50px;top:177.96px;">由</div>
<div class="dg c" style="left:1821.50px;width:122.90px;top:178.96px;letter-spacing:-0.4px">2500/Jr1300</div>
<div class="nm" style="left:1213px;top:198.98px">ＳＳＢＣ</div>
<div class="dg c" style="left:1625.80px;width:91.90px;top:199.98px;">16:30</div>
<div class="nm c" style="left:1721.10px;width:15.58px;top:198.98px;transform:scaleX(0.86);transform-origin:50% 0;">ク</div>
<div class="nm c" style="left:1738.75px;width:15.58px;top:198.98px;transform:scaleX(0.86);transform-origin:50% 0;">ラ</div>
<div class="nm c" style="left:1756.39px;width:15.58px;top:198.98px;transform:scaleX(0.86);transform-origin:50% 0;">ブ</div>
<div class="nm c" style="left:1774.04px;width:20.50px;top:198.98px;transform:scaleX(0.9);transform-origin:50% 0;">会</div>
<div class="nm c" style="left:1796.60px;width:20.50px;top:198.98px;transform:scaleX(0.9);transform-origin:50% 0;">員</div>
<div class="nm" style="left:1213px;top:220px"><span class="k" style="width:167.3px"><span style="transform:scaleX(0.86);letter-spacing:-4.23px">オークラジュニアクラブ</span></span></div>
<div class="dg c" style="left:1625.80px;width:91.90px;top:221px;">17:00</div>
<div class="nm" style="left:1722.20px;top:220.70px;transform:scaleX(0.7595);">Jrクラブ会員</div>
<div class="nm" style="left:1213px;top:241.02px"><span class="k" style="width:171.4px"><span style="transform:scaleX(0.86);letter-spacing:-3.70px">マスターズクラブリーグ</span></span></div>
<div class="dg c" style="left:1625.80px;width:91.90px;top:242.02px;">20:45</div>
<div class="nm c" style="left:1721.10px;width:15.58px;top:241.02px;transform:scaleX(0.86);transform-origin:50% 0;">ク</div>
<div class="nm c" style="left:1738.75px;width:15.58px;top:241.02px;transform:scaleX(0.86);transform-origin:50% 0;">ラ</div>
<div class="nm c" style="left:1756.39px;width:15.58px;top:241.02px;transform:scaleX(0.86);transform-origin:50% 0;">ブ</div>
<div class="nm c" style="left:1774.04px;width:20.50px;top:241.02px;transform:scaleX(0.9);transform-origin:50% 0;">会</div>
<div class="nm c" style="left:1796.60px;width:20.50px;top:241.02px;transform:scaleX(0.9);transform-origin:50% 0;">員</div>
<div class="dg c" style="left:1821.50px;width:122.90px;top:242.02px;">2000</div>
<div class="dg c" style="left:1944.40px;width:48px;top:242.02px;">3</div>
<div class="st c" style="left:1992.40px;width:43.60px;top:241.22px;">★</div>
<div class="nm" style="left:1213px;top:262.04px"><span class="k" style="width:136.1px"><span style="transform:scaleX(0.86);letter-spacing:-4.30px">クレイジーラビット</span></span></div>
<div class="dg c" style="left:1625.80px;width:91.90px;top:263.04px;">21:15</div>
<div class="nm c" style="left:1721.10px;width:15.58px;top:262.04px;transform:scaleX(0.86);transform-origin:50% 0;">ク</div>
<div class="nm c" style="left:1738.75px;width:15.58px;top:262.04px;transform:scaleX(0.86);transform-origin:50% 0;">ラ</div>
<div class="nm c" style="left:1756.39px;width:15.58px;top:262.04px;transform:scaleX(0.86);transform-origin:50% 0;">ブ</div>
<div class="nm c" style="left:1774.04px;width:20.50px;top:262.04px;transform:scaleX(0.9);transform-origin:50% 0;">会</div>
<div class="nm c" style="left:1796.60px;width:20.50px;top:262.04px;transform:scaleX(0.9);transform-origin:50% 0;">員</div>
<div class="dg c" style="left:1821.50px;width:122.90px;top:263.04px;">2000</div>
<div class="dg c" style="left:1944.40px;width:48px;top:263.04px;">3</div>
<div class="st c" style="left:1992.40px;width:43.60px;top:262.24px;">★</div>
<div class="dg c" style="left:1103.50px;width:54.20px;top:284.06px;">18</div>
<div class="nm c" style="left:1156.50px;width:53.50px;top:283.26px;">土</div>
<div class="nm" style="left:1213px;top:283.06px"><span class="k" style="width:73.8px"><span style="transform:scaleX(0.86);letter-spacing:-4.84px">スタチャレ</span></span></div>
<div class="dg c" style="left:1625.80px;width:91.90px;top:284.06px;">9:30</div>
<div class="nm c" style="left:1721.10px;width:20.50px;top:283.06px;">自</div>
<div class="nm c" style="left:1796.60px;width:20.50px;top:283.06px;">由</div>
<div class="dg c" style="left:1821.50px;width:122.90px;top:284.06px;">3000</div>
<div class="dg c" style="left:1944.40px;width:48px;top:284.06px;">4</div>
<svg class="b" style="left:2051.30px;top:287.16px" width="14" height="14" viewBox="0 0 14 14"><circle cx="7" cy="7" r="5.9" fill="none" stroke="#000" stroke-width="1.0"/><circle cx="7" cy="7" r="3.7" fill="none" stroke="#000" stroke-width="1.0"/></svg>
<div class="nm" style="left:1213px;top:304.08px"><span class="k" style="width:167.3px"><span style="transform:scaleX(0.86);letter-spacing:-4.14px">オークラスタッフリーグ</span></span></div>
<div class="dg c" style="left:1625.80px;width:91.90px;top:305.08px;">12:45</div>
<div class="nm c" style="left:1721.10px;width:20.50px;top:304.08px;">登</div>
<div class="nm c" style="left:1758.85px;width:20.50px;top:304.08px;">録</div>
<div class="nm c" style="left:1796.60px;width:20.50px;top:304.08px;">者</div>
<div class="dg c" style="left:1821.50px;width:122.90px;top:305.08px;">2500</div>
<div class="dg c" style="left:1944.40px;width:48px;top:305.08px;">3</div>
<div class="st c" style="left:1992.40px;width:43.60px;top:304.28px;">★</div>
<div class="nm" style="left:1213px;top:325.10px">世田谷第二支部</div>
<div class="dg c" style="left:1625.80px;width:91.90px;top:326.10px;">15:00</div>
<div class="nm c" style="left:1721.10px;width:15.58px;top:325.10px;transform:scaleX(0.86);transform-origin:50% 0;">ク</div>
<div class="nm c" style="left:1738.75px;width:15.58px;top:325.10px;transform:scaleX(0.86);transform-origin:50% 0;">ラ</div>
<div class="nm c" style="left:1756.39px;width:15.58px;top:325.10px;transform:scaleX(0.86);transform-origin:50% 0;">ブ</div>
<div class="nm c" style="left:1774.04px;width:20.50px;top:325.10px;transform:scaleX(0.9);transform-origin:50% 0;">会</div>
<div class="nm c" style="left:1796.60px;width:20.50px;top:325.10px;transform:scaleX(0.9);transform-origin:50% 0;">員</div>
<div class="dg c" style="left:1944.40px;width:48px;top:326.10px;">4</div>
<div class="nm" style="left:1213px;top:346.12px">中央<span class="k" style="width:77.9px"><span style="transform:scaleX(0.86);letter-spacing:-3.68px">ボウラーズ</span></span></div>
<div class="dg c" style="left:1625.80px;width:91.90px;top:347.12px;">15:00</div>
<div class="nm c" style="left:1721.10px;width:15.58px;top:346.12px;transform:scaleX(0.86);transform-origin:50% 0;">ク</div>
<div class="nm c" style="left:1738.75px;width:15.58px;top:346.12px;transform:scaleX(0.86);transform-origin:50% 0;">ラ</div>
<div class="nm c" style="left:1756.39px;width:15.58px;top:346.12px;transform:scaleX(0.86);transform-origin:50% 0;">ブ</div>
<div class="nm c" style="left:1774.04px;width:20.50px;top:346.12px;transform:scaleX(0.9);transform-origin:50% 0;">会</div>
<div class="nm c" style="left:1796.60px;width:20.50px;top:346.12px;transform:scaleX(0.9);transform-origin:50% 0;">員</div>
<div class="dg c" style="left:1944.40px;width:48px;top:347.12px;">4</div>
<div class="nm" style="left:1213px;top:367.14px">原宿ＢＣ</div>
<div class="dg c" style="left:1625.80px;width:91.90px;top:368.14px;">21:00</div>
<div class="nm c" style="left:1721.10px;width:15.58px;top:367.14px;transform:scaleX(0.86);transform-origin:50% 0;">ク</div>
<div class="nm c" style="left:1738.75px;width:15.58px;top:367.14px;transform:scaleX(0.86);transform-origin:50% 0;">ラ</div>
<div class="nm c" style="left:1756.39px;width:15.58px;top:367.14px;transform:scaleX(0.86);transform-origin:50% 0;">ブ</div>
<div class="nm c" style="left:1774.04px;width:20.50px;top:367.14px;transform:scaleX(0.9);transform-origin:50% 0;">会</div>
<div class="nm c" style="left:1796.60px;width:20.50px;top:367.14px;transform:scaleX(0.9);transform-origin:50% 0;">員</div>
<div class="dg c" style="left:1944.40px;width:48px;top:368.14px;">3</div>
<div class="dg c" style="left:1103.50px;width:54.20px;top:389.16px;">19</div>
<div class="nm c" style="left:1156.50px;width:53.50px;top:388.36px;">日</div>
<div class="nm" style="left:1213px;top:388.16px">ＯＢＭＣ金子様（楽<span class="k" style="width:31.2px"><span style="transform:scaleX(0.86);letter-spacing:-3.88px">しみ</span></span>隊）</div>
<div class="dg c" style="left:1625.80px;width:91.90px;top:389.16px;">9:00</div>
<div class="nm c" style="left:1721.10px;width:15.58px;top:388.16px;transform:scaleX(0.86);transform-origin:50% 0;">ク</div>
<div class="nm c" style="left:1738.75px;width:15.58px;top:388.16px;transform:scaleX(0.86);transform-origin:50% 0;">ラ</div>
<div class="nm c" style="left:1756.39px;width:15.58px;top:388.16px;transform:scaleX(0.86);transform-origin:50% 0;">ブ</div>
<div class="nm c" style="left:1774.04px;width:20.50px;top:388.16px;transform:scaleX(0.9);transform-origin:50% 0;">会</div>
<div class="nm c" style="left:1796.60px;width:20.50px;top:388.16px;transform:scaleX(0.9);transform-origin:50% 0;">員</div>
<div class="dg c" style="left:1944.40px;width:48px;top:389.16px;">5</div>
<div class="nm" style="left:1213px;top:409.18px">２９９<span class="k" style="width:46.7px"><span style="transform:scaleX(0.86);letter-spacing:-3.88px">クラブ</span></span></div>
<div class="dg c" style="left:1625.80px;width:91.90px;top:410.18px;">10:00</div>
<div class="nm c" style="left:1721.10px;width:15.58px;top:409.18px;transform:scaleX(0.86);transform-origin:50% 0;">ク</div>
<div class="nm c" style="left:1738.75px;width:15.58px;top:409.18px;transform:scaleX(0.86);transform-origin:50% 0;">ラ</div>
<div class="nm c" style="left:1756.39px;width:15.58px;top:409.18px;transform:scaleX(0.86);transform-origin:50% 0;">ブ</div>
<div class="nm c" style="left:1774.04px;width:20.50px;top:409.18px;transform:scaleX(0.9);transform-origin:50% 0;">会</div>
<div class="nm c" style="left:1796.60px;width:20.50px;top:409.18px;transform:scaleX(0.9);transform-origin:50% 0;">員</div>
<div class="dg c" style="left:1944.40px;width:48px;top:410.18px;">3</div>
<div class="st c" style="left:1992.40px;width:43.60px;top:409.38px;">★</div>
<div class="nm" style="left:1213px;top:430.20px"><span class="k" style="width:93.5px"><span style="transform:scaleX(0.86);letter-spacing:-3.88px">エイトクラブ</span></span></div>
<div class="dg c" style="left:1625.80px;width:91.90px;top:431.20px;">10:00</div>
<div class="nm c" style="left:1721.10px;width:15.58px;top:430.20px;transform:scaleX(0.86);transform-origin:50% 0;">ク</div>
<div class="nm c" style="left:1738.75px;width:15.58px;top:430.20px;transform:scaleX(0.86);transform-origin:50% 0;">ラ</div>
<div class="nm c" style="left:1756.39px;width:15.58px;top:430.20px;transform:scaleX(0.86);transform-origin:50% 0;">ブ</div>
<div class="nm c" style="left:1774.04px;width:20.50px;top:430.20px;transform:scaleX(0.9);transform-origin:50% 0;">会</div>
<div class="nm c" style="left:1796.60px;width:20.50px;top:430.20px;transform:scaleX(0.9);transform-origin:50% 0;">員</div>
<div class="dg c" style="left:1944.40px;width:48px;top:431.20px;">3</div>
<div class="st c" style="left:1992.40px;width:43.60px;top:430.40px;">★</div>
<div class="nm" style="left:1213px;top:451.22px">雄鶴<span class="k" style="width:124.6px"><span style="transform:scaleX(0.86);letter-spacing:-3.76px">ボウラーズクラブ</span></span></div>
<div class="dg c" style="left:1625.80px;width:91.90px;top:452.22px;">10:00</div>
<div class="nm c" style="left:1721.10px;width:15.58px;top:451.22px;transform:scaleX(0.86);transform-origin:50% 0;">ク</div>
<div class="nm c" style="left:1738.75px;width:15.58px;top:451.22px;transform:scaleX(0.86);transform-origin:50% 0;">ラ</div>
<div class="nm c" style="left:1756.39px;width:15.58px;top:451.22px;transform:scaleX(0.86);transform-origin:50% 0;">ブ</div>
<div class="nm c" style="left:1774.04px;width:20.50px;top:451.22px;transform:scaleX(0.9);transform-origin:50% 0;">会</div>
<div class="nm c" style="left:1796.60px;width:20.50px;top:451.22px;transform:scaleX(0.9);transform-origin:50% 0;">員</div>
<div class="dg c" style="left:1944.40px;width:48px;top:452.22px;">3</div>
<div class="nm" style="left:1213px;top:472.24px">福山<span class="k" style="width:147.6px"><span style="transform:scaleX(0.86);letter-spacing:-4.84px">プロチャレンジマッチ</span></span></div>
<div class="dg c" style="left:1625.80px;width:91.90px;top:473.24px;">20:30</div>
<div class="nm c" style="left:1721.10px;width:20.50px;top:472.24px;">自</div>
<div class="nm c" style="left:1796.60px;width:20.50px;top:472.24px;">由</div>
<div class="dg c" style="left:1821.50px;width:122.90px;top:473.24px;">3000</div>
<div class="dg c" style="left:1944.40px;width:48px;top:473.24px;">4</div>
<svg class="b" style="left:2051.30px;top:476.34px" width="14" height="14" viewBox="0 0 14 14"><circle cx="7" cy="7" r="5.9" fill="none" stroke="#000" stroke-width="1.0"/><circle cx="7" cy="7" r="3.7" fill="none" stroke="#000" stroke-width="1.0"/></svg>
<div class="dg c" style="left:1103.50px;width:54.20px;top:494.26px;">20</div>
<div class="nm c" style="left:1156.50px;width:53.50px;top:493.46px;">月</div>
<div class="nm" style="left:1213px;top:493.26px"><span class="k" style="width:120.5px"><span style="transform:scaleX(0.86);letter-spacing:-4.35px">レディースクラブ</span></span></div>
<div class="dg c" style="left:1625.80px;width:91.90px;top:494.26px;">13:00</div>
<div class="nm c" style="left:1721.10px;width:15.58px;top:493.26px;transform:scaleX(0.86);transform-origin:50% 0;">ク</div>
<div class="nm c" style="left:1738.75px;width:15.58px;top:493.26px;transform:scaleX(0.86);transform-origin:50% 0;">ラ</div>
<div class="nm c" style="left:1756.39px;width:15.58px;top:493.26px;transform:scaleX(0.86);transform-origin:50% 0;">ブ</div>
<div class="nm c" style="left:1774.04px;width:20.50px;top:493.26px;transform:scaleX(0.9);transform-origin:50% 0;">会</div>
<div class="nm c" style="left:1796.60px;width:20.50px;top:493.26px;transform:scaleX(0.9);transform-origin:50% 0;">員</div>
<div class="dg c" style="left:1821.50px;width:122.90px;top:494.26px;">1350</div>
<div class="dg c" style="left:1944.40px;width:48px;top:494.26px;">3</div>
<div class="nm" style="left:1213px;top:514.28px">福山武士<span class="k" style="width:31.2px"><span style="transform:scaleX(0.86);letter-spacing:-3.88px">プロ</span></span> <span class="k" style="width:140.2px"><span style="transform:scaleX(0.86);letter-spacing:-3.77px">ボウリングスクール</span></span></div>
<div class="dg c" style="left:1625.80px;width:91.90px;top:515.28px;">13:00</div>
<div class="nm c" style="left:1721.10px;width:20.50px;top:514.28px;">自</div>
<div class="nm c" style="left:1796.60px;width:20.50px;top:514.28px;">由</div>
<div class="dg c" style="left:1821.50px;width:122.90px;top:515.28px;">2200</div>
<div class="nm" style="left:1213px;top:535.30px">世<span class="k" style="width:15.6px"><span style="transform:scaleX(0.86);letter-spacing:-3.88px">ボ</span></span>連<span class="k" style="width:93.5px"><span style="transform:scaleX(0.86);letter-spacing:-3.72px">シニアリーグ</span></span></div>
<div class="dg c" style="left:1625.80px;width:91.90px;top:536.30px;">20:00</div>
<div class="nm c" style="left:1721.10px;width:15.58px;top:535.30px;transform:scaleX(0.86);transform-origin:50% 0;">ク</div>
<div class="nm c" style="left:1738.75px;width:15.58px;top:535.30px;transform:scaleX(0.86);transform-origin:50% 0;">ラ</div>
<div class="nm c" style="left:1756.39px;width:15.58px;top:535.30px;transform:scaleX(0.86);transform-origin:50% 0;">ブ</div>
<div class="nm c" style="left:1774.04px;width:20.50px;top:535.30px;transform:scaleX(0.9);transform-origin:50% 0;">会</div>
<div class="nm c" style="left:1796.60px;width:20.50px;top:535.30px;transform:scaleX(0.9);transform-origin:50% 0;">員</div>
<div class="dg c" style="left:1821.50px;width:122.90px;top:536.30px;">2000</div>
<div class="dg c" style="left:1944.40px;width:48px;top:536.30px;">3</div>
<div class="st c" style="left:1992.40px;width:43.60px;top:535.50px;">★</div>
<div class="nm" style="left:1213px;top:556.32px"><span class="k" style="width:171.4px"><span style="transform:scaleX(0.86);letter-spacing:-3.70px">フリークスクラブリーグ</span></span></div>
<div class="dg c" style="left:1625.80px;width:91.90px;top:557.32px;">21:00</div>
<div class="nm c" style="left:1721.10px;width:15.58px;top:556.32px;transform:scaleX(0.86);transform-origin:50% 0;">ク</div>
<div class="nm c" style="left:1738.75px;width:15.58px;top:556.32px;transform:scaleX(0.86);transform-origin:50% 0;">ラ</div>
<div class="nm c" style="left:1756.39px;width:15.58px;top:556.32px;transform:scaleX(0.86);transform-origin:50% 0;">ブ</div>
<div class="nm c" style="left:1774.04px;width:20.50px;top:556.32px;transform:scaleX(0.9);transform-origin:50% 0;">会</div>
<div class="nm c" style="left:1796.60px;width:20.50px;top:556.32px;transform:scaleX(0.9);transform-origin:50% 0;">員</div>
<div class="dg c" style="left:1821.50px;width:122.90px;top:557.32px;">2000</div>
<div class="dg c" style="left:1944.40px;width:48px;top:557.32px;">3</div>
<div class="st c" style="left:1992.40px;width:43.60px;top:556.52px;">★</div>
<div class="dg c" style="left:1103.50px;width:54.20px;top:578.34px;">21</div>
<div class="nm c" style="left:1156.50px;width:53.50px;top:577.54px;">火</div>
<div class="nm" style="left:1213px;top:577.34px">健康<span class="k" style="width:46.7px"><span style="transform:scaleX(0.86);letter-spacing:-3.88px">クラブ</span></span></div>
<div class="dg c" style="left:1625.80px;width:91.90px;top:578.34px;">10:30</div>
<div class="nm c" style="left:1721.10px;width:15.58px;top:577.34px;transform:scaleX(0.86);transform-origin:50% 0;">ク</div>
<div class="nm c" style="left:1738.75px;width:15.58px;top:577.34px;transform:scaleX(0.86);transform-origin:50% 0;">ラ</div>
<div class="nm c" style="left:1756.39px;width:15.58px;top:577.34px;transform:scaleX(0.86);transform-origin:50% 0;">ブ</div>
<div class="nm c" style="left:1774.04px;width:20.50px;top:577.34px;transform:scaleX(0.9);transform-origin:50% 0;">会</div>
<div class="nm c" style="left:1796.60px;width:20.50px;top:577.34px;transform:scaleX(0.9);transform-origin:50% 0;">員</div>
<div class="dg c" style="left:1821.50px;width:122.90px;top:578.34px;">2500</div>
<div class="dg c" style="left:1944.40px;width:48px;top:578.34px;">3</div>
<div class="nm" style="left:1213px;top:598.36px"><span class="k" style="width:182.9px"><span style="transform:scaleX(0.86);letter-spacing:-4.03px">チューズデートーナメント</span></span></div>
<div class="dg c" style="left:1625.80px;width:91.90px;top:599.36px;">13:30</div>
<div class="nm c" style="left:1721.10px;width:20.50px;top:598.36px;">自</div>
<div class="nm c" style="left:1796.60px;width:20.50px;top:598.36px;">由</div>
<div class="dg c" style="left:1821.50px;width:122.90px;top:599.36px;">2600</div>
<div class="dg c" style="left:1944.40px;width:48px;top:599.36px;">4</div>
<svg class="b" style="left:2051.30px;top:602.46px" width="14" height="14" viewBox="0 0 14 14"><circle cx="7" cy="7" r="5.9" fill="none" stroke="#000" stroke-width="1.0"/><circle cx="7" cy="7" r="3.7" fill="none" stroke="#000" stroke-width="1.0"/></svg>
<div class="nm" style="left:1213px;top:619.38px">個人<span class="k" style="width:62.3px"><span style="transform:scaleX(0.86);letter-spacing:-3.63px">タクシー</span></span></div>
<div class="dg c" style="left:1625.80px;width:91.90px;top:620.38px;">14:00</div>
<div class="nm c" style="left:1721.10px;width:15.58px;top:619.38px;transform:scaleX(0.86);transform-origin:50% 0;">ク</div>
<div class="nm c" style="left:1738.75px;width:15.58px;top:619.38px;transform:scaleX(0.86);transform-origin:50% 0;">ラ</div>
<div class="nm c" style="left:1756.39px;width:15.58px;top:619.38px;transform:scaleX(0.86);transform-origin:50% 0;">ブ</div>
<div class="nm c" style="left:1774.04px;width:20.50px;top:619.38px;transform:scaleX(0.9);transform-origin:50% 0;">会</div>
<div class="nm c" style="left:1796.60px;width:20.50px;top:619.38px;transform:scaleX(0.9);transform-origin:50% 0;">員</div>
<div class="dg c" style="left:1944.40px;width:48px;top:620.38px;">4</div>
<div class="nm" style="left:1213px;top:640.40px">世田谷会</div>
<div class="dg c" style="left:1625.80px;width:91.90px;top:641.40px;">15:00</div>
<div class="nm c" style="left:1721.10px;width:15.58px;top:640.40px;transform:scaleX(0.86);transform-origin:50% 0;">ク</div>
<div class="nm c" style="left:1738.75px;width:15.58px;top:640.40px;transform:scaleX(0.86);transform-origin:50% 0;">ラ</div>
<div class="nm c" style="left:1756.39px;width:15.58px;top:640.40px;transform:scaleX(0.86);transform-origin:50% 0;">ブ</div>
<div class="nm c" style="left:1774.04px;width:20.50px;top:640.40px;transform:scaleX(0.9);transform-origin:50% 0;">会</div>
<div class="nm c" style="left:1796.60px;width:20.50px;top:640.40px;transform:scaleX(0.9);transform-origin:50% 0;">員</div>
<div class="dg c" style="left:1944.40px;width:48px;top:641.40px;">3</div>
<div class="nm" style="left:1213px;top:661.42px"><span class="k" style="width:109.1px"><span style="transform:scaleX(0.86);letter-spacing:-3.88px">テンピンクラブ</span></span> 月例会</div>
<div class="dg c" style="left:1625.80px;width:91.90px;top:662.42px;">20:00</div>
<div class="nm c" style="left:1721.10px;width:15.58px;top:661.42px;transform:scaleX(0.86);transform-origin:50% 0;">ク</div>
<div class="nm c" style="left:1738.75px;width:15.58px;top:661.42px;transform:scaleX(0.86);transform-origin:50% 0;">ラ</div>
<div class="nm c" style="left:1756.39px;width:15.58px;top:661.42px;transform:scaleX(0.86);transform-origin:50% 0;">ブ</div>
<div class="nm c" style="left:1774.04px;width:20.50px;top:661.42px;transform:scaleX(0.9);transform-origin:50% 0;">会</div>
<div class="nm c" style="left:1796.60px;width:20.50px;top:661.42px;transform:scaleX(0.9);transform-origin:50% 0;">員</div>
<div class="dg c" style="left:1821.50px;width:122.90px;top:662.42px;">2200</div>
<div class="dg c" style="left:1944.40px;width:48px;top:662.42px;">3</div>
<div class="st c" style="left:1992.40px;width:43.60px;top:661.62px;">★</div>
<div class="nm" style="left:1213px;top:682.44px">自由<span class="k" style="width:15.6px"><span style="transform:scaleX(0.86);letter-spacing:-3.88px">が</span></span>丘<span class="k" style="width:93.5px"><span style="transform:scaleX(0.86);letter-spacing:-3.72px">クラブリーグ</span></span></div>
<div class="dg c" style="left:1625.80px;width:91.90px;top:683.44px;">20:45</div>
<div class="nm c" style="left:1721.10px;width:15.58px;top:682.44px;transform:scaleX(0.86);transform-origin:50% 0;">ク</div>
<div class="nm c" style="left:1738.75px;width:15.58px;top:682.44px;transform:scaleX(0.86);transform-origin:50% 0;">ラ</div>
<div class="nm c" style="left:1756.39px;width:15.58px;top:682.44px;transform:scaleX(0.86);transform-origin:50% 0;">ブ</div>
<div class="nm c" style="left:1774.04px;width:20.50px;top:682.44px;transform:scaleX(0.9);transform-origin:50% 0;">会</div>
<div class="nm c" style="left:1796.60px;width:20.50px;top:682.44px;transform:scaleX(0.9);transform-origin:50% 0;">員</div>
<div class="dg c" style="left:1821.50px;width:122.90px;top:683.44px;">2000</div>
<div class="dg c" style="left:1944.40px;width:48px;top:683.44px;">3</div>
<div class="st c" style="left:1992.40px;width:43.60px;top:682.64px;">★</div>
<div class="dg c" style="left:1103.50px;width:54.20px;top:704.46px;">22</div>
<div class="nm c" style="left:1156.50px;width:53.50px;top:703.66px;">水</div>
<div class="nm" style="left:1213px;top:703.46px">健康<span class="k" style="width:46.7px"><span style="transform:scaleX(0.86);letter-spacing:-3.88px">クラブ</span></span></div>
<div class="dg c" style="left:1625.80px;width:91.90px;top:704.46px;">10:30</div>
<div class="nm c" style="left:1721.10px;width:15.58px;top:703.46px;transform:scaleX(0.86);transform-origin:50% 0;">ク</div>
<div class="nm c" style="left:1738.75px;width:15.58px;top:703.46px;transform:scaleX(0.86);transform-origin:50% 0;">ラ</div>
<div class="nm c" style="left:1756.39px;width:15.58px;top:703.46px;transform:scaleX(0.86);transform-origin:50% 0;">ブ</div>
<div class="nm c" style="left:1774.04px;width:20.50px;top:703.46px;transform:scaleX(0.9);transform-origin:50% 0;">会</div>
<div class="nm c" style="left:1796.60px;width:20.50px;top:703.46px;transform:scaleX(0.9);transform-origin:50% 0;">員</div>
<div class="dg c" style="left:1821.50px;width:122.90px;top:704.46px;">2500</div>
<div class="dg c" style="left:1944.40px;width:48px;top:704.46px;">3</div>
<div class="nm" style="left:1213px;top:724.48px">水曜<span class="k" style="width:109.1px"><span style="transform:scaleX(0.86);letter-spacing:-3.60px">ブラボーリーグ</span></span></div>
<div class="sm c" style="left:1627.30px;width:91.90px;top:728.18px;">11:00/14:00</div>
<div class="nm c" style="left:1721.10px;width:20.50px;top:724.48px;">登</div>
<div class="nm c" style="left:1758.85px;width:20.50px;top:724.48px;">録</div>
<div class="nm c" style="left:1796.60px;width:20.50px;top:724.48px;">者</div>
<div class="dg c" style="left:1821.50px;width:122.90px;top:725.48px;">1500</div>
<div class="dg c" style="left:1944.40px;width:48px;top:725.48px;">3</div>
<div class="nm" style="left:1213px;top:745.50px"><span class="k" style="width:167.3px"><span style="transform:scaleX(0.86);letter-spacing:-4.23px">オークラジュニアクラブ</span></span></div>
<div class="dg c" style="left:1625.80px;width:91.90px;top:746.50px;">17:00</div>
<div class="nm" style="left:1722.20px;top:746.20px;transform:scaleX(0.7595);">Jrクラブ会員</div>
<div class="nm" style="left:1213px;top:766.52px">ＴＢＡ目黒支部</div>
<div class="dg c" style="left:1625.80px;width:91.90px;top:767.52px;">20:30</div>
<div class="nm c" style="left:1721.10px;width:15.58px;top:766.52px;transform:scaleX(0.86);transform-origin:50% 0;">ク</div>
<div class="nm c" style="left:1738.75px;width:15.58px;top:766.52px;transform:scaleX(0.86);transform-origin:50% 0;">ラ</div>
<div class="nm c" style="left:1756.39px;width:15.58px;top:766.52px;transform:scaleX(0.86);transform-origin:50% 0;">ブ</div>
<div class="nm c" style="left:1774.04px;width:20.50px;top:766.52px;transform:scaleX(0.9);transform-origin:50% 0;">会</div>
<div class="nm c" style="left:1796.60px;width:20.50px;top:766.52px;transform:scaleX(0.9);transform-origin:50% 0;">員</div>
<div class="dg c" style="left:1821.50px;width:122.90px;top:767.52px;">3000</div>
<div class="dg c" style="left:1944.40px;width:48px;top:767.52px;">4</div>
<div class="dg c" style="left:1103.50px;width:54.20px;top:788.54px;">23</div>
<div class="nm c" style="left:1156.50px;width:53.50px;top:787.74px;">木</div>
<div class="nm" style="left:1213px;top:787.54px"><span class="k" style="width:171.4px"><span style="transform:scaleX(0.86);letter-spacing:-3.61px">サーズデートーナメント</span></span></div>
<div class="dg c" style="left:1625.80px;width:91.90px;top:788.54px;">13:30</div>
<div class="nm c" style="left:1721.10px;width:20.50px;top:787.54px;">自</div>
<div class="nm c" style="left:1796.60px;width:20.50px;top:787.54px;">由</div>
<div class="dg c" style="left:1821.50px;width:122.90px;top:788.54px;">2600</div>
<div class="dg c" style="left:1944.40px;width:48px;top:788.54px;">4</div>
<svg class="b" style="left:2051.30px;top:791.64px" width="14" height="14" viewBox="0 0 14 14"><circle cx="7" cy="7" r="5.9" fill="none" stroke="#000" stroke-width="1.0"/><circle cx="7" cy="7" r="3.7" fill="none" stroke="#000" stroke-width="1.0"/></svg>
<div class="nm" style="left:1213px;top:808.56px">ＴＢＡ世田谷支部</div>
<div class="dg c" style="left:1625.80px;width:91.90px;top:809.56px;">20:30</div>
<div class="nm c" style="left:1721.10px;width:15.58px;top:808.56px;transform:scaleX(0.86);transform-origin:50% 0;">ク</div>
<div class="nm c" style="left:1738.75px;width:15.58px;top:808.56px;transform:scaleX(0.86);transform-origin:50% 0;">ラ</div>
<div class="nm c" style="left:1756.39px;width:15.58px;top:808.56px;transform:scaleX(0.86);transform-origin:50% 0;">ブ</div>
<div class="nm c" style="left:1774.04px;width:20.50px;top:808.56px;transform:scaleX(0.9);transform-origin:50% 0;">会</div>
<div class="nm c" style="left:1796.60px;width:20.50px;top:808.56px;transform:scaleX(0.9);transform-origin:50% 0;">員</div>
<div class="dg c" style="left:1821.50px;width:122.90px;top:809.56px;">2000</div>
<div class="dg c" style="left:1944.40px;width:48px;top:809.56px;">3</div>
<div class="st c" style="left:1992.40px;width:43.60px;top:808.76px;">★</div>
<div class="dg c" style="left:1103.50px;width:54.20px;top:830.58px;">24</div>
<div class="nm c" style="left:1156.50px;width:53.50px;top:829.78px;">金</div>
<div class="nm" style="left:1213px;top:829.58px">金曜<span class="k" style="width:109.1px"><span style="transform:scaleX(0.86);letter-spacing:-3.60px">ブラボーリーグ</span></span></div>
<div class="dg c" style="left:1625.80px;width:91.90px;top:830.58px;">11:00</div>
<div class="nm c" style="left:1721.10px;width:20.50px;top:829.58px;">登</div>
<div class="nm c" style="left:1758.85px;width:20.50px;top:829.58px;">録</div>
<div class="nm c" style="left:1796.60px;width:20.50px;top:829.58px;">者</div>
<div class="dg c" style="left:1821.50px;width:122.90px;top:830.58px;">1500</div>
<div class="dg c" style="left:1944.40px;width:48px;top:830.58px;">3</div>
<div class="nm" style="left:1213px;top:850.60px">並木恵美子<span class="k" style="width:31.2px"><span style="transform:scaleX(0.86);letter-spacing:-3.88px">プロ</span></span> <span class="k" style="width:178.8px"><span style="transform:scaleX(0.86);letter-spacing:-4.68px">ステップアップボウリング</span></span></div>
<div class="dg c" style="left:1625.80px;width:91.90px;top:851.60px;">13:30</div>
<div class="nm c" style="left:1721.10px;width:20.50px;top:850.60px;">自</div>
<div class="nm c" style="left:1796.60px;width:20.50px;top:850.60px;">由</div>
<div class="dg c" style="left:1821.50px;width:122.90px;top:851.60px;letter-spacing:-0.4px">2500/Jr1300</div>
<div class="nm" style="left:1213px;top:871.62px"><span class="k" style="width:167.3px"><span style="transform:scaleX(0.86);letter-spacing:-4.23px">オークラジュニアクラブ</span></span></div>
<div class="dg c" style="left:1625.80px;width:91.90px;top:872.62px;">17:00</div>
<div class="nm" style="left:1722.20px;top:872.32px;transform:scaleX(0.7595);">Jrクラブ会員</div>
<div class="nm" style="left:1213px;top:892.64px"><span class="k" style="width:171.4px"><span style="transform:scaleX(0.86);letter-spacing:-3.70px">マスターズクラブリーグ</span></span></div>
<div class="dg c" style="left:1625.80px;width:91.90px;top:893.64px;">20:45</div>
<div class="nm c" style="left:1721.10px;width:15.58px;top:892.64px;transform:scaleX(0.86);transform-origin:50% 0;">ク</div>
<div class="nm c" style="left:1738.75px;width:15.58px;top:892.64px;transform:scaleX(0.86);transform-origin:50% 0;">ラ</div>
<div class="nm c" style="left:1756.39px;width:15.58px;top:892.64px;transform:scaleX(0.86);transform-origin:50% 0;">ブ</div>
<div class="nm c" style="left:1774.04px;width:20.50px;top:892.64px;transform:scaleX(0.9);transform-origin:50% 0;">会</div>
<div class="nm c" style="left:1796.60px;width:20.50px;top:892.64px;transform:scaleX(0.9);transform-origin:50% 0;">員</div>
<div class="dg c" style="left:1821.50px;width:122.90px;top:893.64px;">2000</div>
<div class="dg c" style="left:1944.40px;width:48px;top:893.64px;">3</div>
<div class="st c" style="left:1992.40px;width:43.60px;top:892.84px;">★</div>
<div class="nm" style="left:1213px;top:913.66px"><span class="k" style="width:136.1px"><span style="transform:scaleX(0.86);letter-spacing:-4.30px">クレイジーラビット</span></span></div>
<div class="dg c" style="left:1625.80px;width:91.90px;top:914.66px;">21:15</div>
<div class="nm c" style="left:1721.10px;width:15.58px;top:913.66px;transform:scaleX(0.86);transform-origin:50% 0;">ク</div>
<div class="nm c" style="left:1738.75px;width:15.58px;top:913.66px;transform:scaleX(0.86);transform-origin:50% 0;">ラ</div>
<div class="nm c" style="left:1756.39px;width:15.58px;top:913.66px;transform:scaleX(0.86);transform-origin:50% 0;">ブ</div>
<div class="nm c" style="left:1774.04px;width:20.50px;top:913.66px;transform:scaleX(0.9);transform-origin:50% 0;">会</div>
<div class="nm c" style="left:1796.60px;width:20.50px;top:913.66px;transform:scaleX(0.9);transform-origin:50% 0;">員</div>
<div class="dg c" style="left:1821.50px;width:122.90px;top:914.66px;">2000</div>
<div class="dg c" style="left:1944.40px;width:48px;top:914.66px;">3</div>
<div class="st c" style="left:1992.40px;width:43.60px;top:913.86px;">★</div>
<div class="dg c" style="left:1103.50px;width:54.20px;top:935.68px;">25</div>
<div class="nm c" style="left:1156.50px;width:53.50px;top:934.88px;">土</div>
<div class="nm" style="left:1213px;top:934.68px"><span class="k" style="width:73.8px"><span style="transform:scaleX(0.86);letter-spacing:-4.84px">スタチャレ</span></span></div>
<div class="dg c" style="left:1625.80px;width:91.90px;top:935.68px;">9:30</div>
<div class="nm c" style="left:1721.10px;width:20.50px;top:934.68px;">自</div>
<div class="nm c" style="left:1796.60px;width:20.50px;top:934.68px;">由</div>
<div class="dg c" style="left:1821.50px;width:122.90px;top:935.68px;">3000</div>
<div class="dg c" style="left:1944.40px;width:48px;top:935.68px;">4</div>
<svg class="b" style="left:2051.30px;top:938.78px" width="14" height="14" viewBox="0 0 14 14"><circle cx="7" cy="7" r="5.9" fill="none" stroke="#000" stroke-width="1.0"/><circle cx="7" cy="7" r="3.7" fill="none" stroke="#000" stroke-width="1.0"/></svg>
<div class="nm" style="left:1213px;top:955.70px"><span class="k" style="width:167.3px"><span style="transform:scaleX(0.86);letter-spacing:-4.14px">オークラスタッフリーグ</span></span></div>
<div class="dg c" style="left:1625.80px;width:91.90px;top:956.70px;">12:45</div>
<div class="nm c" style="left:1721.10px;width:20.50px;top:955.70px;">登</div>
<div class="nm c" style="left:1758.85px;width:20.50px;top:955.70px;">録</div>
<div class="nm c" style="left:1796.60px;width:20.50px;top:955.70px;">者</div>
<div class="dg c" style="left:1821.50px;width:122.90px;top:956.70px;">2500</div>
<div class="dg c" style="left:1944.40px;width:48px;top:956.70px;">3</div>
<div class="st c" style="left:1992.40px;width:43.60px;top:955.90px;">★</div>
<div class="nm" style="left:1213px;top:976.72px">世田谷第二支部</div>
<div class="dg c" style="left:1625.80px;width:91.90px;top:977.72px;">15:00</div>
<div class="nm c" style="left:1721.10px;width:15.58px;top:976.72px;transform:scaleX(0.86);transform-origin:50% 0;">ク</div>
<div class="nm c" style="left:1738.75px;width:15.58px;top:976.72px;transform:scaleX(0.86);transform-origin:50% 0;">ラ</div>
<div class="nm c" style="left:1756.39px;width:15.58px;top:976.72px;transform:scaleX(0.86);transform-origin:50% 0;">ブ</div>
<div class="nm c" style="left:1774.04px;width:20.50px;top:976.72px;transform:scaleX(0.9);transform-origin:50% 0;">会</div>
<div class="nm c" style="left:1796.60px;width:20.50px;top:976.72px;transform:scaleX(0.9);transform-origin:50% 0;">員</div>
<div class="dg c" style="left:1944.40px;width:48px;top:977.72px;">4</div>
<div class="nm" style="left:1213px;top:997.74px">中央<span class="k" style="width:77.9px"><span style="transform:scaleX(0.86);letter-spacing:-3.68px">ボウラーズ</span></span></div>
<div class="dg c" style="left:1625.80px;width:91.90px;top:998.74px;">15:00</div>
<div class="nm c" style="left:1721.10px;width:15.58px;top:997.74px;transform:scaleX(0.86);transform-origin:50% 0;">ク</div>
<div class="nm c" style="left:1738.75px;width:15.58px;top:997.74px;transform:scaleX(0.86);transform-origin:50% 0;">ラ</div>
<div class="nm c" style="left:1756.39px;width:15.58px;top:997.74px;transform:scaleX(0.86);transform-origin:50% 0;">ブ</div>
<div class="nm c" style="left:1774.04px;width:20.50px;top:997.74px;transform:scaleX(0.9);transform-origin:50% 0;">会</div>
<div class="nm c" style="left:1796.60px;width:20.50px;top:997.74px;transform:scaleX(0.9);transform-origin:50% 0;">員</div>
<div class="dg c" style="left:1944.40px;width:48px;top:998.74px;">4</div>
<div class="nm" style="left:1213px;top:1018.76px"><span class="k" style="width:73.8px"><span style="transform:scaleX(0.86);letter-spacing:-4.84px">スタチャレ</span></span></div>
<div class="dg c" style="left:1625.80px;width:91.90px;top:1019.76px;">21:00</div>
<div class="nm c" style="left:1721.10px;width:20.50px;top:1018.76px;">自</div>
<div class="nm c" style="left:1796.60px;width:20.50px;top:1018.76px;">由</div>
<div class="dg c" style="left:1821.50px;width:122.90px;top:1019.76px;">2450</div>
<div class="dg c" style="left:1944.40px;width:48px;top:1019.76px;">3</div>
<svg class="b" style="left:2051.30px;top:1022.86px" width="14" height="14" viewBox="0 0 14 14"><circle cx="7" cy="7" r="5.9" fill="none" stroke="#000" stroke-width="1.0"/><circle cx="7" cy="7" r="3.7" fill="none" stroke="#000" stroke-width="1.0"/></svg>
<div class="b" style="left:1622.80px;top:1015.86px;width:97.60px;height:1.80px;background:#000"></div>
<div class="b" style="left:1622.80px;top:1040.06px;width:97.60px;height:1.80px;background:#000"></div>
<div class="b" style="left:1622.80px;top:1015.86px;width:1.80px;height:26px;background:#000"></div>
<div class="b" style="left:1718.60px;top:1015.86px;width:1.80px;height:26px;background:#000"></div>
<div class="b" style="left:1626.80px;top:1019.56px;width:89.90px;height:1.50px;background:#000"></div>
<div class="b" style="left:1626.80px;top:1036.76px;width:89.90px;height:1.50px;background:#000"></div>
<div class="b" style="left:1626.80px;top:1019.56px;width:1.50px;height:18.70px;background:#000"></div>
<div class="b" style="left:1715.20px;top:1019.56px;width:1.50px;height:18.70px;background:#000"></div>
<div class="dg c" style="left:1103.50px;width:54.20px;top:1040.78px;">26</div>
<div class="nm c" style="left:1156.50px;width:53.50px;top:1039.98px;">日</div>
<div class="nm" style="left:1213px;top:1039.78px"><span class="k" style="width:46.7px"><span style="transform:scaleX(0.86);letter-spacing:-3.55px">チーム</span></span>対抗区民大会</div>
<div class="dg c" style="left:1625.80px;width:91.90px;top:1040.78px;">9:00</div>
<div class="nm c" style="left:1721.10px;width:20.50px;top:1039.78px;">登</div>
<div class="nm c" style="left:1758.85px;width:20.50px;top:1039.78px;">録</div>
<div class="nm c" style="left:1796.60px;width:20.50px;top:1039.78px;">者</div>
<div class="st c" style="left:1992.40px;width:43.60px;top:1039.98px;">★</div>
<div class="nm" style="left:1213px;top:1060.80px"><span class="k" style="width:155.8px"><span style="transform:scaleX(0.86);letter-spacing:-3.68px">ノーミストーナメント</span></span></div>
<div class="dg c" style="left:1625.80px;width:91.90px;top:1061.80px;">20:30</div>
<div class="nm c" style="left:1721.10px;width:20.50px;top:1060.80px;">自</div>
<div class="nm c" style="left:1796.60px;width:20.50px;top:1060.80px;">由</div>
<div class="dg c" style="left:1821.50px;width:122.90px;top:1061.80px;">3000</div>
<div class="dg c" style="left:1944.40px;width:48px;top:1061.80px;">4</div>
<svg class="b" style="left:2051.30px;top:1064.90px" width="14" height="14" viewBox="0 0 14 14"><circle cx="7" cy="7" r="5.9" fill="none" stroke="#000" stroke-width="1.0"/><circle cx="7" cy="7" r="3.7" fill="none" stroke="#000" stroke-width="1.0"/></svg>
<div class="dg c" style="left:1103.50px;width:54.20px;top:1082.82px;">27</div>
<div class="nm c" style="left:1156.50px;width:53.50px;top:1082.02px;">月</div>
<div class="nm" style="left:1213px;top:1081.82px"><span class="k" style="width:120.5px"><span style="transform:scaleX(0.86);letter-spacing:-4.35px">レディースクラブ</span></span></div>
<div class="dg c" style="left:1625.80px;width:91.90px;top:1082.82px;">13:00</div>
<div class="nm c" style="left:1721.10px;width:15.58px;top:1081.82px;transform:scaleX(0.86);transform-origin:50% 0;">ク</div>
<div class="nm c" style="left:1738.75px;width:15.58px;top:1081.82px;transform:scaleX(0.86);transform-origin:50% 0;">ラ</div>
<div class="nm c" style="left:1756.39px;width:15.58px;top:1081.82px;transform:scaleX(0.86);transform-origin:50% 0;">ブ</div>
<div class="nm c" style="left:1774.04px;width:20.50px;top:1081.82px;transform:scaleX(0.9);transform-origin:50% 0;">会</div>
<div class="nm c" style="left:1796.60px;width:20.50px;top:1081.82px;transform:scaleX(0.9);transform-origin:50% 0;">員</div>
<div class="dg c" style="left:1821.50px;width:122.90px;top:1082.82px;">1350</div>
<div class="dg c" style="left:1944.40px;width:48px;top:1082.82px;">3</div>
<div class="nm" style="left:1213px;top:1102.84px">福山武士<span class="k" style="width:31.2px"><span style="transform:scaleX(0.86);letter-spacing:-3.88px">プロ</span></span> <span class="k" style="width:140.2px"><span style="transform:scaleX(0.86);letter-spacing:-3.77px">ボウリングスクール</span></span></div>
<div class="dg c" style="left:1625.80px;width:91.90px;top:1103.84px;">13:00</div>
<div class="nm c" style="left:1721.10px;width:20.50px;top:1102.84px;">自</div>
<div class="nm c" style="left:1796.60px;width:20.50px;top:1102.84px;">由</div>
<div class="dg c" style="left:1821.50px;width:122.90px;top:1103.84px;">2200</div>
<div class="nm" style="left:1213px;top:1123.86px">世<span class="k" style="width:15.6px"><span style="transform:scaleX(0.86);letter-spacing:-3.88px">ボ</span></span>連<span class="k" style="width:93.5px"><span style="transform:scaleX(0.86);letter-spacing:-3.72px">シニアリーグ</span></span></div>
<div class="dg c" style="left:1625.80px;width:91.90px;top:1124.86px;">20:00</div>
<div class="nm c" style="left:1721.10px;width:15.58px;top:1123.86px;transform:scaleX(0.86);transform-origin:50% 0;">ク</div>
<div class="nm c" style="left:1738.75px;width:15.58px;top:1123.86px;transform:scaleX(0.86);transform-origin:50% 0;">ラ</div>
<div class="nm c" style="left:1756.39px;width:15.58px;top:1123.86px;transform:scaleX(0.86);transform-origin:50% 0;">ブ</div>
<div class="nm c" style="left:1774.04px;width:20.50px;top:1123.86px;transform:scaleX(0.9);transform-origin:50% 0;">会</div>
<div class="nm c" style="left:1796.60px;width:20.50px;top:1123.86px;transform:scaleX(0.9);transform-origin:50% 0;">員</div>
<div class="dg c" style="left:1821.50px;width:122.90px;top:1124.86px;">2000</div>
<div class="dg c" style="left:1944.40px;width:48px;top:1124.86px;">3</div>
<div class="st c" style="left:1992.40px;width:43.60px;top:1124.06px;">★</div>
<div class="nm" style="left:1213px;top:1144.88px"><span class="k" style="width:171.4px"><span style="transform:scaleX(0.86);letter-spacing:-3.70px">フリークスクラブリーグ</span></span></div>
<div class="dg c" style="left:1625.80px;width:91.90px;top:1145.88px;">21:00</div>
<div class="nm c" style="left:1721.10px;width:15.58px;top:1144.88px;transform:scaleX(0.86);transform-origin:50% 0;">ク</div>
<div class="nm c" style="left:1738.75px;width:15.58px;top:1144.88px;transform:scaleX(0.86);transform-origin:50% 0;">ラ</div>
<div class="nm c" style="left:1756.39px;width:15.58px;top:1144.88px;transform:scaleX(0.86);transform-origin:50% 0;">ブ</div>
<div class="nm c" style="left:1774.04px;width:20.50px;top:1144.88px;transform:scaleX(0.9);transform-origin:50% 0;">会</div>
<div class="nm c" style="left:1796.60px;width:20.50px;top:1144.88px;transform:scaleX(0.9);transform-origin:50% 0;">員</div>
<div class="dg c" style="left:1821.50px;width:122.90px;top:1145.88px;">2000</div>
<div class="dg c" style="left:1944.40px;width:48px;top:1145.88px;">3</div>
<div class="st c" style="left:1992.40px;width:43.60px;top:1145.08px;">★</div>
<div class="dg c" style="left:1103.50px;width:54.20px;top:1166.90px;">28</div>
<div class="nm c" style="left:1156.50px;width:53.50px;top:1166.10px;">火</div>
<div class="nm" style="left:1213px;top:1165.90px"><span class="k" style="width:182.9px"><span style="transform:scaleX(0.86);letter-spacing:-4.03px">チューズデートーナメント</span></span></div>
<div class="dg c" style="left:1625.80px;width:91.90px;top:1166.90px;">13:30</div>
<div class="nm c" style="left:1721.10px;width:20.50px;top:1165.90px;">自</div>
<div class="nm c" style="left:1796.60px;width:20.50px;top:1165.90px;">由</div>
<div class="dg c" style="left:1821.50px;width:122.90px;top:1166.90px;">2600</div>
<div class="dg c" style="left:1944.40px;width:48px;top:1166.90px;">4</div>
<svg class="b" style="left:2051.30px;top:1170px" width="14" height="14" viewBox="0 0 14 14"><circle cx="7" cy="7" r="5.9" fill="none" stroke="#000" stroke-width="1.0"/><circle cx="7" cy="7" r="3.7" fill="none" stroke="#000" stroke-width="1.0"/></svg>
<div class="nm" style="left:1213px;top:1186.92px">個人<span class="k" style="width:62.3px"><span style="transform:scaleX(0.86);letter-spacing:-3.63px">タクシー</span></span></div>
<div class="dg c" style="left:1625.80px;width:91.90px;top:1187.92px;">14:00</div>
<div class="nm c" style="left:1721.10px;width:15.58px;top:1186.92px;transform:scaleX(0.86);transform-origin:50% 0;">ク</div>
<div class="nm c" style="left:1738.75px;width:15.58px;top:1186.92px;transform:scaleX(0.86);transform-origin:50% 0;">ラ</div>
<div class="nm c" style="left:1756.39px;width:15.58px;top:1186.92px;transform:scaleX(0.86);transform-origin:50% 0;">ブ</div>
<div class="nm c" style="left:1774.04px;width:20.50px;top:1186.92px;transform:scaleX(0.9);transform-origin:50% 0;">会</div>
<div class="nm c" style="left:1796.60px;width:20.50px;top:1186.92px;transform:scaleX(0.9);transform-origin:50% 0;">員</div>
<div class="dg c" style="left:1944.40px;width:48px;top:1187.92px;">4</div>
<div class="nm" style="left:1213px;top:1207.94px">世田谷区役所　<span class="k" style="width:46.7px"><span style="transform:scaleX(0.86);letter-spacing:-3.55px">リーグ</span></span>戦</div>
<div class="dg c" style="left:1625.80px;width:91.90px;top:1208.94px;">18:30</div>
<div class="nm c" style="left:1721.10px;width:15.58px;top:1207.94px;transform:scaleX(0.86);transform-origin:50% 0;">ク</div>
<div class="nm c" style="left:1738.75px;width:15.58px;top:1207.94px;transform:scaleX(0.86);transform-origin:50% 0;">ラ</div>
<div class="nm c" style="left:1756.39px;width:15.58px;top:1207.94px;transform:scaleX(0.86);transform-origin:50% 0;">ブ</div>
<div class="nm c" style="left:1774.04px;width:20.50px;top:1207.94px;transform:scaleX(0.9);transform-origin:50% 0;">会</div>
<div class="nm c" style="left:1796.60px;width:20.50px;top:1207.94px;transform:scaleX(0.9);transform-origin:50% 0;">員</div>
<div class="dg c" style="left:1944.40px;width:48px;top:1208.94px;">3</div>
<div class="st c" style="left:1992.40px;width:43.60px;top:1208.14px;">★</div>
<div class="nm" style="left:1213px;top:1228.96px">自由<span class="k" style="width:15.6px"><span style="transform:scaleX(0.86);letter-spacing:-3.88px">が</span></span>丘<span class="k" style="width:93.5px"><span style="transform:scaleX(0.86);letter-spacing:-3.72px">クラブリーグ</span></span></div>
<div class="dg c" style="left:1625.80px;width:91.90px;top:1229.96px;">20:45</div>
<div class="nm c" style="left:1721.10px;width:15.58px;top:1228.96px;transform:scaleX(0.86);transform-origin:50% 0;">ク</div>
<div class="nm c" style="left:1738.75px;width:15.58px;top:1228.96px;transform:scaleX(0.86);transform-origin:50% 0;">ラ</div>
<div class="nm c" style="left:1756.39px;width:15.58px;top:1228.96px;transform:scaleX(0.86);transform-origin:50% 0;">ブ</div>
<div class="nm c" style="left:1774.04px;width:20.50px;top:1228.96px;transform:scaleX(0.9);transform-origin:50% 0;">会</div>
<div class="nm c" style="left:1796.60px;width:20.50px;top:1228.96px;transform:scaleX(0.9);transform-origin:50% 0;">員</div>
<div class="dg c" style="left:1821.50px;width:122.90px;top:1229.96px;">2000</div>
<div class="dg c" style="left:1944.40px;width:48px;top:1229.96px;">3</div>
<div class="st c" style="left:1992.40px;width:43.60px;top:1229.16px;">★</div>
<div class="dg c" style="left:1103.50px;width:54.20px;top:1250.98px;">29</div>
<div class="nm c" style="left:1156.50px;width:53.50px;top:1250.18px;">水</div>
<div class="nm" style="left:1213px;top:1249.98px">水曜<span class="k" style="width:109.1px"><span style="transform:scaleX(0.86);letter-spacing:-3.60px">ブラボーリーグ</span></span></div>
<div class="sm c" style="left:1627.30px;width:91.90px;top:1253.68px;">11:00/14:00</div>
<div class="nm c" style="left:1721.10px;width:20.50px;top:1249.98px;">登</div>
<div class="nm c" style="left:1758.85px;width:20.50px;top:1249.98px;">録</div>
<div class="nm c" style="left:1796.60px;width:20.50px;top:1249.98px;">者</div>
<div class="dg c" style="left:1821.50px;width:122.90px;top:1250.98px;">1500</div>
<div class="dg c" style="left:1944.40px;width:48px;top:1250.98px;">3</div>
<div class="nm" style="left:1213px;top:1271px"><span class="k" style="width:167.3px"><span style="transform:scaleX(0.86);letter-spacing:-4.23px">オークラジュニアクラブ</span></span> <span class="k" style="width:105.0px"><span style="transform:scaleX(0.86);letter-spacing:-4.56px">ワッペンテスト</span></span></div>
<div class="dg c" style="left:1625.80px;width:91.90px;top:1272px;">17:00</div>
<div class="nm" style="left:1722.20px;top:1271.70px;transform:scaleX(0.7595);">Jrクラブ会員</div>
<div class="nm" style="left:1213px;top:1292.02px"><span class="k" style="width:187.0px"><span style="transform:scaleX(0.86);letter-spacing:-3.80px">シニアトーナメントクラブ</span></span></div>
<div class="dg c" style="left:1625.80px;width:91.90px;top:1293.02px;">20:30</div>
<div class="nm c" style="left:1721.10px;width:15.58px;top:1292.02px;transform:scaleX(0.86);transform-origin:50% 0;">ク</div>
<div class="nm c" style="left:1738.75px;width:15.58px;top:1292.02px;transform:scaleX(0.86);transform-origin:50% 0;">ラ</div>
<div class="nm c" style="left:1756.39px;width:15.58px;top:1292.02px;transform:scaleX(0.86);transform-origin:50% 0;">ブ</div>
<div class="nm c" style="left:1774.04px;width:20.50px;top:1292.02px;transform:scaleX(0.9);transform-origin:50% 0;">会</div>
<div class="nm c" style="left:1796.60px;width:20.50px;top:1292.02px;transform:scaleX(0.9);transform-origin:50% 0;">員</div>
<div class="dg c" style="left:1821.50px;width:122.90px;top:1293.02px;">2200</div>
<div class="dg c" style="left:1944.40px;width:48px;top:1293.02px;">3</div>
<div class="st c" style="left:1992.40px;width:43.60px;top:1292.22px;">★</div>
<div class="nm" style="left:1213px;top:1313.04px">ＴＢＡ目黒支部</div>
<div class="dg c" style="left:1625.80px;width:91.90px;top:1314.04px;">20:30</div>
<div class="nm c" style="left:1721.10px;width:15.58px;top:1313.04px;transform:scaleX(0.86);transform-origin:50% 0;">ク</div>
<div class="nm c" style="left:1738.75px;width:15.58px;top:1313.04px;transform:scaleX(0.86);transform-origin:50% 0;">ラ</div>
<div class="nm c" style="left:1756.39px;width:15.58px;top:1313.04px;transform:scaleX(0.86);transform-origin:50% 0;">ブ</div>
<div class="nm c" style="left:1774.04px;width:20.50px;top:1313.04px;transform:scaleX(0.9);transform-origin:50% 0;">会</div>
<div class="nm c" style="left:1796.60px;width:20.50px;top:1313.04px;transform:scaleX(0.9);transform-origin:50% 0;">員</div>
<div class="dg c" style="left:1821.50px;width:122.90px;top:1314.04px;">3000</div>
<div class="dg c" style="left:1944.40px;width:48px;top:1314.04px;">4</div>
<div class="dg c" style="left:1103.50px;width:54.20px;top:1335.06px;">30</div>
<div class="nm c" style="left:1156.50px;width:53.50px;top:1334.26px;">木</div>
<div class="nm" style="left:1213px;top:1334.06px"><span class="k" style="width:171.4px"><span style="transform:scaleX(0.86);letter-spacing:-3.61px">サーズデートーナメント</span></span></div>
<div class="dg c" style="left:1625.80px;width:91.90px;top:1335.06px;">13:30</div>
<div class="nm c" style="left:1721.10px;width:20.50px;top:1334.06px;">自</div>
<div class="nm c" style="left:1796.60px;width:20.50px;top:1334.06px;">由</div>
<div class="dg c" style="left:1821.50px;width:122.90px;top:1335.06px;">2600</div>
<div class="dg c" style="left:1944.40px;width:48px;top:1335.06px;">4</div>
<svg class="b" style="left:2051.30px;top:1338.16px" width="14" height="14" viewBox="0 0 14 14"><circle cx="7" cy="7" r="5.9" fill="none" stroke="#000" stroke-width="1.0"/><circle cx="7" cy="7" r="3.7" fill="none" stroke="#000" stroke-width="1.0"/></svg>
<div class="nm" style="left:1213px;top:1355.08px">ＴＢＡ世田谷支部</div>
<div class="dg c" style="left:1625.80px;width:91.90px;top:1356.08px;">20:30</div>
<div class="nm c" style="left:1721.10px;width:15.58px;top:1355.08px;transform:scaleX(0.86);transform-origin:50% 0;">ク</div>
<div class="nm c" style="left:1738.75px;width:15.58px;top:1355.08px;transform:scaleX(0.86);transform-origin:50% 0;">ラ</div>
<div class="nm c" style="left:1756.39px;width:15.58px;top:1355.08px;transform:scaleX(0.86);transform-origin:50% 0;">ブ</div>
<div class="nm c" style="left:1774.04px;width:20.50px;top:1355.08px;transform:scaleX(0.9);transform-origin:50% 0;">会</div>
<div class="nm c" style="left:1796.60px;width:20.50px;top:1355.08px;transform:scaleX(0.9);transform-origin:50% 0;">員</div>
<div class="dg c" style="left:1821.50px;width:122.90px;top:1356.08px;">2000</div>
<div class="dg c" style="left:1944.40px;width:48px;top:1356.08px;">3</div>
<div class="st c" style="left:1992.40px;width:43.60px;top:1355.28px;">★</div>
<div class="dg c" style="left:1103.50px;width:54.20px;top:1377.10px;">31</div>
<div class="nm c" style="left:1156.50px;width:53.50px;top:1376.30px;">金</div>
<div class="nm" style="left:1213px;top:1376.10px">金曜<span class="k" style="width:109.1px"><span style="transform:scaleX(0.86);letter-spacing:-3.60px">ブラボーリーグ</span></span></div>
<div class="dg c" style="left:1625.80px;width:91.90px;top:1377.10px;">11:00</div>
<div class="nm c" style="left:1721.10px;width:20.50px;top:1376.10px;">登</div>
<div class="nm c" style="left:1758.85px;width:20.50px;top:1376.10px;">録</div>
<div class="nm c" style="left:1796.60px;width:20.50px;top:1376.10px;">者</div>
<div class="dg c" style="left:1821.50px;width:122.90px;top:1377.10px;">1500</div>
<div class="dg c" style="left:1944.40px;width:48px;top:1377.10px;">3</div>
<div class="nm" style="left:1213px;top:1397.12px">並木恵美子<span class="k" style="width:31.2px"><span style="transform:scaleX(0.86);letter-spacing:-3.88px">プロ</span></span> <span class="k" style="width:178.8px"><span style="transform:scaleX(0.86);letter-spacing:-4.68px">ステップアップボウリング</span></span></div>
<div class="dg c" style="left:1625.80px;width:91.90px;top:1398.12px;">13:30</div>
<div class="nm c" style="left:1721.10px;width:20.50px;top:1397.12px;">自</div>
<div class="nm c" style="left:1796.60px;width:20.50px;top:1397.12px;">由</div>
<div class="dg c" style="left:1821.50px;width:122.90px;top:1398.12px;letter-spacing:-0.4px">2500/Jr1300</div>
<div class="nm" style="left:1213px;top:1418.14px"><span class="k" style="width:167.3px"><span style="transform:scaleX(0.86);letter-spacing:-4.23px">オークラジュニアクラブ</span></span></div>
<div class="dg c" style="left:1625.80px;width:91.90px;top:1419.14px;">17:00</div>
<div class="nm" style="left:1722.20px;top:1418.84px;transform:scaleX(0.7595);">Jrクラブ会員</div>
<div class="nm" style="left:1213px;top:1439.16px"><span class="k" style="width:171.4px"><span style="transform:scaleX(0.86);letter-spacing:-3.70px">マスターズクラブリーグ</span></span></div>
<div class="dg c" style="left:1625.80px;width:91.90px;top:1440.16px;">20:45</div>
<div class="nm c" style="left:1721.10px;width:15.58px;top:1439.16px;transform:scaleX(0.86);transform-origin:50% 0;">ク</div>
<div class="nm c" style="left:1738.75px;width:15.58px;top:1439.16px;transform:scaleX(0.86);transform-origin:50% 0;">ラ</div>
<div class="nm c" style="left:1756.39px;width:15.58px;top:1439.16px;transform:scaleX(0.86);transform-origin:50% 0;">ブ</div>
<div class="nm c" style="left:1774.04px;width:20.50px;top:1439.16px;transform:scaleX(0.9);transform-origin:50% 0;">会</div>
<div class="nm c" style="left:1796.60px;width:20.50px;top:1439.16px;transform:scaleX(0.9);transform-origin:50% 0;">員</div>
<div class="dg c" style="left:1821.50px;width:122.90px;top:1440.16px;">2000</div>
<div class="dg c" style="left:1944.40px;width:48px;top:1440.16px;">3</div>
<div class="st c" style="left:1992.40px;width:43.60px;top:1439.36px;">★</div>
<div class="nm" style="left:1213px;top:1460.18px"><span class="k" style="width:136.1px"><span style="transform:scaleX(0.86);letter-spacing:-4.30px">クレイジーラビット</span></span></div>
<div class="dg c" style="left:1625.80px;width:91.90px;top:1461.18px;">21:15</div>
<div class="nm c" style="left:1721.10px;width:15.58px;top:1460.18px;transform:scaleX(0.86);transform-origin:50% 0;">ク</div>
<div class="nm c" style="left:1738.75px;width:15.58px;top:1460.18px;transform:scaleX(0.86);transform-origin:50% 0;">ラ</div>
<div class="nm c" style="left:1756.39px;width:15.58px;top:1460.18px;transform:scaleX(0.86);transform-origin:50% 0;">ブ</div>
<div class="nm c" style="left:1774.04px;width:20.50px;top:1460.18px;transform:scaleX(0.9);transform-origin:50% 0;">会</div>
<div class="nm c" style="left:1796.60px;width:20.50px;top:1460.18px;transform:scaleX(0.9);transform-origin:50% 0;">員</div>
<div class="dg c" style="left:1821.50px;width:122.90px;top:1461.18px;">2000</div>
<div class="dg c" style="left:1944.40px;width:48px;top:1461.18px;">3</div>
<div class="st c" style="left:1992.40px;width:43.60px;top:1460.38px;">★</div>
<div class="b" style="left:2080px;top:450px;width:13px;height:1.30px;background:#555"></div>
<div class="b" style="left:1099px;top:29.30px;width:112.60px;height:1.70px;background:#000"></div>
<div class="b" style="left:1099px;top:85px;width:112.60px;height:1.70px;background:#000"></div>
<div class="b" style="left:1099px;top:29.30px;width:1.70px;height:57.40px;background:#000"></div>
<div class="b" style="left:1209.90px;top:29.30px;width:1.70px;height:57.40px;background:#000"></div>
<div class="b" style="left:1102.90px;top:33.30px;width:104.80px;height:1.60px;background:#000"></div>
<div class="b" style="left:1102.90px;top:81.10px;width:104.80px;height:1.60px;background:#000"></div>
<div class="b" style="left:1102.90px;top:33.30px;width:1.60px;height:49.40px;background:#000"></div>
<div class="b" style="left:1206.10px;top:33.30px;width:1.60px;height:49.40px;background:#000"></div>
<div class="bx" style="left:1107px;top:43px;transform:scaleX(0.9231);">参加資格</div>
<div class="b" style="left:1623px;top:29.30px;width:97.60px;height:1.70px;background:#000"></div>
<div class="b" style="left:1623px;top:85px;width:97.60px;height:1.70px;background:#000"></div>
<div class="b" style="left:1623px;top:29.30px;width:1.70px;height:57.40px;background:#000"></div>
<div class="b" style="left:1718.90px;top:29.30px;width:1.70px;height:57.40px;background:#000"></div>
<div class="b" style="left:1626.90px;top:33.30px;width:89.80px;height:1.60px;background:#000"></div>
<div class="b" style="left:1626.90px;top:81.10px;width:89.80px;height:1.60px;background:#000"></div>
<div class="b" style="left:1626.90px;top:33.30px;width:1.60px;height:49.40px;background:#000"></div>
<div class="b" style="left:1715.10px;top:33.30px;width:1.60px;height:49.40px;background:#000"></div>
<div class="bx" style="left:1633px;top:43px;transform:scaleX(0.9744);">参加費</div>
<div class="b" style="left:1941px;top:29.30px;width:141px;height:1.70px;background:#000"></div>
<div class="b" style="left:1941px;top:85px;width:141px;height:1.70px;background:#000"></div>
<div class="b" style="left:1941px;top:29.30px;width:1.70px;height:57.40px;background:#000"></div>
<div class="b" style="left:2080.30px;top:29.30px;width:1.70px;height:57.40px;background:#000"></div>
<div class="b" style="left:1944.90px;top:33.30px;width:133.20px;height:1.60px;background:#000"></div>
<div class="b" style="left:1944.90px;top:81.10px;width:133.20px;height:1.60px;background:#000"></div>
<div class="b" style="left:1944.90px;top:33.30px;width:1.60px;height:49.40px;background:#000"></div>
<div class="b" style="left:2076.50px;top:33.30px;width:1.60px;height:49.40px;background:#000"></div>
<div class="lg" style="left:1213px;top:34.50px;transform:scaleX(0.9062);">※OBMC：当センター会員　※登録者：リーグ登録者</div>
<div class="lg" style="left:1213px;top:60px;transform:scaleX(0.8465);">※クラブ会員：各クラブ会員　※自由：どなたでも</div>
<div class="lg" style="left:1722px;top:33.50px;transform:scaleX(1.0196);">大　　会：会員料金を記載</div>
<div class="lg" style="left:1722px;top:59.50px;transform:scaleX(0.9951);">スクール：一般料金を記載</div>
<div class="lg" style="left:1956.5px;top:34px;font-size:19px">★</div>
<svg class="b" style="left:1957.5px;top:64px" width="14" height="14" viewBox="0 0 14 14"><circle cx="7" cy="7" r="5.6" fill="none" stroke="#000" stroke-width="1.0"/><circle cx="7" cy="7" r="3.5" fill="none" stroke="#000" stroke-width="1.0"/></svg>
<div class="lg" style="left:1983px;top:33.50px;transform:scaleX(0.8431);">センター公認</div>
<div class="lg" style="left:1983px;top:59.50px;transform:scaleX(0.8431);">センター主催</div>
<div class="vt" style="left:1052px;top:143.50px">◎</div>
<div class="vt" style="left:1052px;top:162.24px">印</div>
<div class="vt" style="left:1052px;top:180.98px">の</div>
<div class="vt" style="left:1052px;top:199.72px">つ</div>
<div class="vt" style="left:1052px;top:218.46px">い</div>
<div class="vt" style="left:1052px;top:237.20px">て</div>
<div class="vt" style="left:1052px;top:255.94px">い</div>
<div class="vt" style="left:1052px;top:274.68px">る</div>
<div class="vt" style="left:1052px;top:293.42px">大</div>
<div class="vt" style="left:1052px;top:312.16px">会</div>
<div class="vt" style="left:1052px;top:330.90px">で</div>
<div class="vt" style="left:1052px;top:349.64px">１</div>
<div class="vt" style="left:1052px;top:368.38px">２</div>
<div class="vt" style="left:1052px;top:387.12px">ゲ</div>
<div class="vt" style="left:1052px;top:405.86px">｜</div>
<div class="vt" style="left:1052px;top:424.60px">ム</div>
<div class="vt" style="left:1052px;top:443.34px">消</div>
<div class="vt" style="left:1052px;top:462.08px">化</div>
<div class="vt" style="left:1052px;top:480.82px">す</div>
<div class="vt" style="left:1052px;top:499.56px">る</div>
<div class="vt" style="left:1052px;top:518.30px">と</div>
<div class="vt" style="left:1052px;top:537.04px">翌</div>
<div class="vt" style="left:1052px;top:555.78px">月</div>
<div class="vt" style="left:1052px;top:574.52px">か</div>
<div class="vt" style="left:1052px;top:593.26px">ら</div>
<div class="vt" style="left:1052px;top:612px">セ</div>
<div class="vt" style="left:1052px;top:630.74px">ン</div>
<div class="vt" style="left:1052px;top:649.48px">タ</div>
<div class="vt" style="left:1052px;top:668.22px">｜</div>
<div class="vt" style="left:1052px;top:686.96px">オ</div>
<div class="vt" style="left:1052px;top:705.70px">フ</div>
<div class="vt" style="left:1052px;top:724.44px">ィ</div>
<div class="vt" style="left:1052px;top:743.18px">シ</div>
<div class="vt" style="left:1052px;top:761.92px">ャ</div>
<div class="vt" style="left:1052px;top:780.66px">ル</div>
<div class="vt" style="left:1052px;top:799.40px">ハ</div>
<div class="vt" style="left:1052px;top:818.14px">ン</div>
<div class="vt" style="left:1052px;top:836.88px">デ</div>
<div class="vt" style="left:1052px;top:855.62px">キ</div>
<div class="vt" style="left:1052px;top:874.36px">ャ</div>
<div class="vt" style="left:1052px;top:893.10px">ッ</div>
<div class="vt" style="left:1052px;top:911.84px">プ</div>
<div class="vt" style="left:1052px;top:930.58px">が</div>
<div class="vt" style="left:1052px;top:949.32px">つ</div>
<div class="vt" style="left:1052px;top:968.06px">き</div>
<div class="vt" style="left:1052px;top:986.80px">ま</div>
<div class="vt" style="left:1052px;top:1005.54px">す</div>
<div class="vt" style="left:1052px;top:1024.28px">︒</div>
<div class="vt" style="left:1052px;top:1043.02px">︵</div>
<div class="vt" style="left:1052px;top:1061.76px">直</div>
<div class="vt" style="left:1052px;top:1080.50px">近</div>
<div class="vt" style="left:1052px;top:1099.24px">３</div>
<div class="vt" style="left:1052px;top:1117.98px">か</div>
<div class="vt" style="left:1052px;top:1136.72px">月</div>
<div class="vt" style="left:1052px;top:1155.46px">間</div>
<div class="vt" style="left:1052px;top:1174.20px">が</div>
<div class="vt" style="left:1052px;top:1192.94px">対</div>
<div class="vt" style="left:1052px;top:1211.68px">象</div>
<div class="vt" style="left:1052px;top:1230.42px">期</div>
<div class="vt" style="left:1052px;top:1249.16px">間</div>
<div class="vt" style="left:1052px;top:1267.90px">︶</div>
<div class="lg" style="left:398px;top:1436.8px;font-size:18.5px;transform:scaleX(0.8809);">【お休み】１３日（月）福山プロスクール</div></body></html>
